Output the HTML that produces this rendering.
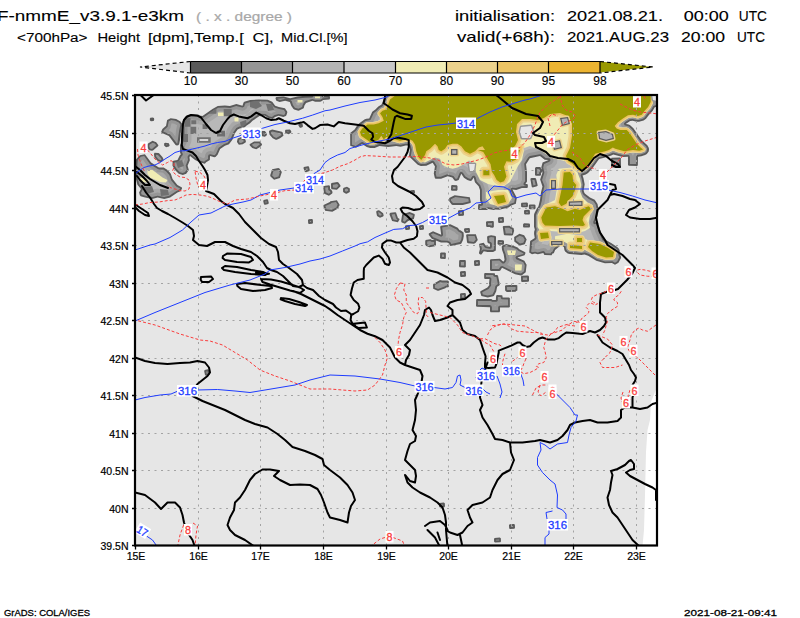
<!DOCTYPE html>
<html><head><meta charset="utf-8"><title>GrADS map</title>
<style>
html,body{margin:0;padding:0;background:#fff;}
body{width:800px;height:618px;overflow:hidden;}
svg{display:block;}
text{font-family:"Liberation Sans",sans-serif;}
svg{opacity:0.999;}
</style></head><body>
<svg width="800" height="618" viewBox="0 0 800 618">
<rect width="800" height="618" fill="#fff"/>
<g fill="#000" font-size="14.8" stroke="#000" stroke-width="0.12">
<text x="-3" y="21" textLength="187.00" lengthAdjust="spacingAndGlyphs">F-nmmE_v3.9.1-e3km</text>
<text font-size="12.5" x="17" y="42" textLength="70.50" lengthAdjust="spacingAndGlyphs">&lt;700hPa&gt;</text>
<text font-size="12.5" x="97.5" y="42" textLength="42.50" lengthAdjust="spacingAndGlyphs">Height</text>
<text font-size="12.5" x="148" y="42" textLength="95.75" lengthAdjust="spacingAndGlyphs">[dpm],Temp.[</text>
<text font-size="12.5" x="252.5" y="42" textLength="21.25" lengthAdjust="spacingAndGlyphs">C],</text>
<text font-size="12.5" x="281" y="42" textLength="66.60" lengthAdjust="spacingAndGlyphs">Mid.Cl.[%]</text>
<text x="455" y="21" textLength="100.00" lengthAdjust="spacingAndGlyphs">initialisation:</text>
<text x="567" y="21" textLength="96.00" lengthAdjust="spacingAndGlyphs">2021.08.21.</text>
<text x="683.75" y="21" textLength="45.00" lengthAdjust="spacingAndGlyphs">00:00</text>
<text x="738.75" y="21" textLength="28.25" lengthAdjust="spacingAndGlyphs">UTC</text>
<text x="457" y="42" textLength="98.00" lengthAdjust="spacingAndGlyphs">valid(+68h):</text>
<text x="567" y="42" textLength="102.00" lengthAdjust="spacingAndGlyphs">2021.AUG.23</text>
<text x="681" y="42" textLength="44.00" lengthAdjust="spacingAndGlyphs">20:00</text>
<text x="737" y="42" textLength="28.00" lengthAdjust="spacingAndGlyphs">UTC</text>
</g>
<text x="196" y="20.5" font-size="12" fill="#a8a8a8" stroke="#a8a8a8" stroke-width="0.2" textLength="96" lengthAdjust="spacingAndGlyphs">( . x . degree )</text>
<g id="cbar">
<polygon points="190.5,61.5 140,67 190.5,72.5" fill="#e6e6e6"/>
<rect x="190.5" y="61.5" width="51" height="11.5" fill="#5a5a5a"/>
<rect x="241.5" y="61.5" width="51" height="11.5" fill="#969696"/>
<rect x="292.5" y="61.5" width="51.5" height="11.5" fill="#b4b4b4"/>
<rect x="344" y="61.5" width="51.5" height="11.5" fill="#c8c8c8"/>
<rect x="395.5" y="61.5" width="51" height="11.5" fill="#f0ecb4"/>
<rect x="446.5" y="61.5" width="51" height="11.5" fill="#ecd28c"/>
<rect x="497.5" y="61.5" width="51" height="11.5" fill="#ecc464"/>
<rect x="548.5" y="61.5" width="51.5" height="11.5" fill="#ecb432"/>
<polygon points="600,61.5 653,67 600,72.5" fill="#999900"/>
<g stroke="#000" stroke-width="1.2" fill="none">
<path d="M190.5,61.5H600M190.5,73H600M190.5,61.5V73M241.5,61.5V73M292.5,61.5V73M344,61.5V73M395.5,61.5V73M446.5,61.5V73M497.5,61.5V73M548.5,61.5V73M600,61.5V73"/>
<path d="M190.5,61.5L140,67L190.5,73M600,61.5L653,67L600,73" stroke-dasharray="4,3"/>
</g>
<g font-size="12" text-anchor="middle" stroke="#000" stroke-width="0.15">
<text x="190.5" y="85">10</text><text x="241.5" y="85">30</text><text x="292.5" y="85">50</text><text x="344" y="85">60</text><text x="395.5" y="85">70</text><text x="446.5" y="85">80</text><text x="497.5" y="85">90</text><text x="548.5" y="85">95</text><text x="600" y="85">98</text>
</g>
</g>
<defs><clipPath id="mc"><rect x="135" y="95" width="522" height="450"/></clipPath></defs>
<g clip-path="url(#mc)">
<rect x="135" y="95" width="522" height="450" fill="#e6e6e6"/>
<path d="M658,385 L655,392 L651,402 L650,420 L647.5,430 L646,452 L645,495 L644,530 L642.5,546 L658,546Z" fill="#fff"/>
<path d="M362.18,143.98 L366.75,147.03 L370.09,148 L374.62,147.89 L379.51,145.94 L388.15,146.98 L396.3,146.01 L400.68,146.67 L405.67,145.52 L408.44,145.53 L408.99,146.35 L409.94,150.1 L408.9,156.2 L417.74,164.79 L420.8,165.9 L426.35,165.65 L432.66,162.74 L434.96,166.48 L433.79,173.5 L434.77,177.84 L435.42,178.63 L441.02,178.75 L447.68,176.3 L452.28,177.45 L454.49,180.49 L455.87,180.96 L458.67,179.91 L461.26,173.81 L463.95,177.63 L467.37,179.91 L470.38,180.96 L471.76,180.49 L473.74,177.58 L474.92,182.18 L478.65,186.15 L479.97,189.91 L480,200.25 L481.3,203.97 L479.2,204 L478.16,204.6 L478,208.8 L478.16,209.4 L479.2,210 L486.86,210 L488.17,209.03 L493.71,209.95 L495.43,209.52 L499.39,209.83 L508.45,207.48 L511.31,205.56 L515.85,203.87 L516.83,197.65 L512.43,189.58 L516.26,189.91 L521.91,188.03 L526.8,188 L527.84,187.4 L527.84,184.6 L526.8,184 L525.4,183.97 L527,181.57 L527,172.07 L526.03,164.21 L529.87,158.2 L539.99,156.03 L544.67,159.74 L548.62,160.03 L542.61,162.6 L541.32,167.21 L541.54,169.21 L541.03,168.97 L540.84,167.6 L539.8,167 L536.2,167 L535.6,167.16 L535,168.2 L535,174.8 L535.6,175.84 L540.4,175.84 L541,174.8 L541.03,173.03 L541.89,172.36 L542.04,170.64 L542.45,172.66 L540.14,179.58 L542.46,186.43 L540.99,192.56 L539.99,200.03 L538.47,206.13 L536.85,208.48 L534.43,213.31 L534.03,214.86 L534,226.83 L534.84,229.46 L534.13,231.65 L534.08,233.9 L534.74,237.96 L530.16,241.09 L529.21,252.4 L532.02,254.28 L534.98,253.53 L537.88,254.3 L543.35,252.95 L544.16,254.79 L544.83,255.05 L551.56,255.35 L552.54,253.61 L553.78,253.27 L555.14,249.89 L561.25,245.03 L563.97,247.21 L564.37,249.9 L565.15,251.43 L567.64,253.45 L569.58,253.99 L581.42,254.97 L584.49,254.41 L588.14,255.63 L596.25,260.74 L604.91,263.37 L611.92,263.09 L615,264.76 L618.48,262.68 L621.03,257.94 L621.09,257.03 L619.84,253.56 L619.72,250.54 L618.9,248.68 L617.25,246.96 L611.13,242.88 L603.88,239.07 L600.02,230.04 L598.01,222.06 L597.71,221.51 L596.54,221.19 L595.05,222.42 L597.46,216.35 L598.7,210.24 L597.55,203.98 L594.71,199.86 L589.96,197.47 L585.08,193.81 L584.46,192.94 L583.67,190.74 L584.66,184.2 L583.44,178.12 L582.52,175.52 L585.71,174.41 L588.04,172.94 L592.29,168.62 L599.12,159.02 L607.13,156.98 L611.31,155.52 L613.21,154.45 L622.78,157.12 L627.96,156.81 L628,164.8 L628.6,165.84 L636.8,166 L637.84,165.4 L638.04,156.63 L641.3,156.36 L645.11,155.04 L646.85,153.99 L648.68,151.41 L649.02,149.57 L648.84,147.94 L647.34,145.23 L641.42,139.82 L633.42,128.14 L629.91,124.96 L627.92,124.14 L625.78,123.88 L630.18,121.08 L632.7,120.82 L636.58,121.82 L639.03,121.85 L643.65,120.41 L646.05,118.83 L649.1,114.68 L652.75,110.86 L654.77,107.33 L658,106.5 L658,94 L387.33,94 L385.55,95.59 L384.47,97.2 L381.54,104.46 L378.31,106.46 L375.35,109.49 L372.27,111.8 L369.23,118.46 L366.49,118.66 L364.81,119.22 L358.94,123.42 L357.48,124.96 L354.6,129.4 L350.13,133.06 L350.23,145.84 L355.98,147.87Z M620.84,158.1 L619.8,157.5 L611.6,157.66 L611,158.7 L611.16,166.9 L612.2,167.5 L620.4,167.34 L621,166.3Z M535.99,178.44 L535.06,178 L531.46,178 L530.35,178.74 L531.73,186.67 L532.62,187.6 L536.95,186.35 L537.73,185.51Z M535.44,205 L534.4,204.4 L529.4,204.56 L528.8,205.6 L528.96,208.7 L530,209.3 L535,209.14 L535.6,208.1Z M529.84,210.4 L528.8,209.8 L524.6,209.96 L524,211 L524.16,214 L525.2,214.6 L529.4,214.44 L530,213.4Z M529.4,227.54 L530,226.5 L530,224.5 L529.4,223.46 L524.2,223.3 L523.16,223.9 L523,226.5 L523.6,227.54Z M527.62,275.53 L521.6,275.76 L521,276.8 L521.16,281.4 L522.2,282 L528.4,281.84 L529,280.8 L529,276.75 L528.56,275.82Z M527.84,203.1 L526.8,202.5 L521.6,202.66 L521,203.7 L521.16,206.7 L522.2,207.3 L527.4,207.14 L528,206.1Z M502.02,267.86 L515.05,274.32 L520.99,275.41 L521.91,275.19 L525.71,272.25 L526.63,264.67 L524.3,260.63 L517.36,257.6 L524.59,255.37 L525.45,253.31 L525.28,252.2 L519.37,249.18 L517.61,247.5 L514.02,245.96 L506.23,244.01 L502.35,245.62 L501.7,246.84 L502.08,250.05 L503.71,254.45 L504.57,259.89 L503.35,261.68 L499.96,258.69 L490.57,259.13 L490,260.15 L490,269.8 L490.16,270.4 L491.2,271 L499.31,271 L500.35,270.41Z M514.17,237.09 L514.31,241.44 L519.07,245.18 L520.02,245.4 L524.07,244.62 L524.95,243.91 L526.66,239.51 L524.11,235.35 L519.51,233.65Z M505.12,290.4 L506.36,291.79 L507.03,292 L515.64,291.79 L516.17,291.03 L517.34,290.4 L517.34,285.6 L516.3,285 L505.6,285.16 L505,286.2Z M514.84,524.6 L513.8,524 L509.6,524.16 L509,525.2 L509.16,528.4 L510.2,529 L514.4,528.84 L515,527.8Z M502.74,226.87 L503.85,234.47 L504.49,235.37 L512.05,235.5 L512.98,235.05 L514.14,230.66 L513.53,227.97 L511.48,227.16 L509.51,225.8 L503.37,225.94Z M490,307.16 L490,311.3 L490.6,312.34 L499.4,312.34 L500,311.3 L500.03,307.53 L508.8,307.5 L509.84,306.9 L509.84,298.1 L508.8,297.5 L502.66,297.5 L502.34,295.6 L501.9,295.16 L497.2,295 L496.16,295.6 L495.84,300 L492.66,300 L491.35,299 L477.2,299 L476.16,299.6 L476,305.8 L476.6,306.84Z M503.4,222.84 L504,221.8 L503.84,217.6 L502.8,217 L498.6,217.16 L498,218.2 L498.16,222.4 L499.2,223Z M503.4,244.84 L504,243.8 L504,241.2 L503.4,240.16 L498.7,240 L497.66,240.6 L497.5,243.8 L498.1,244.84Z M500.82,538.16 L499.71,537.59 L494.55,538.11 L494,539.12 L494.16,541.9 L495.2,542.5 L500.4,542.34 L501,541.3Z M489.4,284.9 L487.38,287.56 L480.45,291.16 L480.23,292.18 L481.4,296.09 L487.74,297.45 L493.17,296.37 L494.01,295.73 L496.18,291.39 L497.16,286.8 L499.3,285.44 L499.84,284.19 L497.97,275.47 L497.02,275 L495.03,274.97 L494.84,273.6 L494.4,273.16 L485.2,273 L484.16,273.6 L484.16,278.4 L485.2,279 L489.51,279.04 L489.04,283.65Z M486.26,246.23 L483.65,242.75 L479.37,243.76 L479.04,244.91 L479.96,248.89 L478.98,252.82 L479.2,253.84 L480.3,254.53 L481.42,254.51 L483.77,251.3 L487.6,251.9 L493.1,251.9 L495.84,250.4 L496,237.02 L495.51,236.05 L491.1,235.18 L487.57,236.08 L487.08,237.14 L487.44,242.16 L488.31,243.23 L489.95,243.75 L490,246.82Z M490.34,227.45 L492.8,227.7 L493.84,227.1 L493.84,221.6 L492.8,221 L486.6,221.16 L486,222.2 L486.16,226.4 L487.2,227 L489.84,227Z M479.84,260.6 L478.8,260 L474.6,260.16 L474,261.2 L474.16,265.4 L475.2,266 L479.4,265.84 L480,264.8Z M473.96,243.87 L475.45,243.07 L477.79,239.95 L475.84,234.23 L466.7,234.18 L466.15,235.33 L467.07,242.57 L467.92,243.13Z M469.79,197.21 L454.66,195.17 L449.18,198.11 L449.24,201.32 L451.64,204.52 L452.6,205 L462.85,205 L470.45,202.99 L470.82,201.91Z M464.25,231.58 L465.64,232.89 L469.4,232.84 L470,231.8 L469.84,228.6 L468.8,228 L464.6,228.16 L464,229.2Z M465.84,271.6 L464.8,271 L460.6,271.16 L460,272.2 L460.16,276.4 L461.2,277 L465.4,276.84 L466,275.8Z M465.84,260.6 L464.8,260 L460.2,260 L459.16,260.6 L459,266.3 L459.6,267.34 L464.8,267.5 L465.84,266.9Z M465.4,299.24 L466,298.2 L465.84,293.6 L464.8,293 L460.6,293.16 L460,294.2 L460.16,298.8 L461.2,299.4Z M463.84,210.6 L462.8,210 L458.6,210.16 L458,211.2 L458.16,215.4 L459.2,216 L463.4,215.84 L464,214.8Z M425.25,244.7 L426.23,245.99 L429.33,247.25 L435,246.17 L435.87,245.53 L436,244.98 L435.9,240.52 L440.97,242.5 L447.12,242.56 L449.08,243.57 L449.67,245.25 L450.47,246.02 L460.71,243.88 L461.5,243.25 L463.12,239.78 L463.79,236.02 L463.57,232.58 L460.5,230.34 L459.65,230.15 L457.75,227.87 L450.37,224.18 L441.11,225.78 L440.57,226.04 L440.16,227.12 L441.21,234.65 L433.01,231.15 L429.18,233.29 L428.72,233.79 L428.86,235.07 L431.79,238.74 L434.59,240 L431.76,240 L430.89,239.23 L430.19,239.13 L425.62,240.06 L425.2,241.18Z M456.9,190.84 L457.5,189.8 L457.5,186.2 L456.9,185.16 L452.2,185 L451.16,185.6 L451,189.8 L451.6,190.84Z M438.44,290.84 L445.41,288.22 L446.11,287.53 L448.4,287.34 L449,286.3 L448.84,281.2 L447.8,280.6 L442.18,280.6 L440.01,280.1 L433.6,283.65 L433,284.7 L433.21,288.86 L437.57,290.83Z M445.84,253.1 L444.8,252.5 L441.2,252.5 L440.16,253.1 L440,257.8 L440.6,258.84 L444.8,259 L445.84,258.4Z M444.82,503.18 L443.7,502.61 L439.54,503.1 L439,504.1 L439.16,506.9 L440.2,507.5 L444.4,507.34 L445,506.3Z M423.84,225.6 L422.8,225 L419.6,225.16 L419,226.2 L419.16,229.4 L420.2,230 L423.4,229.84 L424,228.8Z M414.84,190.6 L413.8,190 L410.6,190.16 L410,191.2 L410.16,193.4 L411.2,194 L414.4,193.84 L415,192.8Z M409.62,212.09 L402.19,214.17 L401.11,221.16 L401.76,222.38 L404.96,223.72 L408.13,220.96 L413.86,218.88 L414.8,214.98 L414.52,213.95Z M409.84,225.6 L408.8,225 L405.6,225.16 L405,226.2 L405.16,229.4 L406.2,230 L409.4,229.84 L410,228.8Z M396.03,212.48 L395.01,212.14 L390.48,212.79 L389.48,213.69 L389.52,214.4 L392.1,220.88 L397.88,222.22 L399.53,219.48 L399.34,218.86 L397.96,217.89Z M377.41,216.28 L380.01,217.81 L383.07,216.47 L383.72,215.58 L383.12,213.36 L379.5,210.38 L378.4,210.2 L377,210.67 L376.23,211.47 L376.21,212.04 L376.9,215.51Z M343.14,191.92 L345.42,193.61 L346.62,193.69 L349.82,191.89 L349.86,188.58 L346.98,186.65 L343.78,187.71 L343,188.83Z M336.95,189.86 L340.56,186.25 L340.38,185.17 L338.43,182.57 L337.3,182.1 L331.5,183.06 L331,184.04 L331.13,188.53 L332,189.17Z M330.4,201.13 L329.84,202.07 L323.55,204.92 L323.35,206.05 L325.13,210.84 L332.36,211.8 L338.51,208.13 L338.58,206.84 L339.74,204.98 L336.9,200.22Z M330,188.99 L330,186.38 L329.3,185.29 L323.6,186.07 L323.15,187.17 L324.21,193.79 L328.98,195.79 L332.2,193.6 L332.55,192.1 L331.4,189.79Z M311.54,95.75 L305.07,95.75 L297.66,96.5 L290.16,98.21 L283.53,96.41 L276.55,96.89 L275.88,97.16 L275.49,98.47 L276.35,100.65 L279.67,101.89 L285.14,100.79 L289.85,101.96 L291.34,105.88 L293.49,109.11 L294.2,109.61 L298.32,110.64 L299.15,110.55 L303.66,108.17 L304.45,105.45 L306.02,102.91 L312.58,100.74 L315.16,101.75 L320.15,101.71 L321.44,101.36 L323.22,99.98 L329.45,99.39 L330,98.38 L330,96.72 L329.39,95.67 L323.31,95.59 L322.38,94 L312.62,94Z M312.84,219.6 L311.8,219 L308.6,219.16 L308,220.2 L308.16,223.4 L309.2,224 L312.4,223.84 L313,222.8Z M308.96,166.59 L307.85,166.19 L303.8,167.07 L303.49,168.36 L304.95,171.93 L306.09,172.17 L309.46,171.01 L309.79,169.93Z M302.65,127.05 L302.95,126.06 L302.69,124.42 L301.94,123.49 L299.26,123.74 L298.35,124.41 L298.4,125.53 L299.87,127.76 L300.96,127.86Z M288.72,134.34 L290.98,132.73 L291.35,132.24 L291.19,131.06 L289.94,129.62 L285.6,129.66 L285,130.7 L285.23,133.09Z M180.83,154.48 L179.85,155.3 L177.48,159.97 L173.46,160.81 L172.62,161.45 L172.5,165.66 L174.93,169.88 L178.78,173.78 L182.83,174.91 L186.24,173.68 L188.83,169.98 L187.59,165.79 L189.86,160.34 L189.44,157.19 L190.01,156.05 L195.11,160.06 L200.1,162.53 L204.89,163.71 L206.12,162.33 L209.84,159.91 L210.03,156.03 L214.31,157.29 L215.51,156.99 L217.59,154.78 L220.15,148.9 L224.94,145.79 L228.97,144.2 L232.4,139.63 L234.98,133.31 L237.64,129.43 L240.14,128.25 L243.71,128.16 L246.3,125.72 L250.08,123.17 L252.55,120.72 L259.85,115.85 L264.82,115.75 L268.98,118.3 L272.47,118.88 L275.1,116.97 L278.59,115.8 L283.32,116.89 L285.81,115.97 L286.41,115.28 L287.31,112.56 L287.17,111.51 L284.94,108.33 L278.79,107.01 L275.19,105.81 L272.21,101.86 L267.75,99.63 L258.78,99.5 L250.15,99.99 L244.33,101.81 L243.56,102.58 L242.48,105.71 L236.35,104.09 L229.88,105.99 L224.92,105.6 L217.8,105.98 L212.47,109.02 L202.49,115.98 L190.66,114.17 L185.3,116.85 L182.5,121.34 L182.5,139.86 L180,145.28 L180,152.22Z M272.17,129.61 L269.25,130.72 L268.93,131.77 L269.6,134.75 L272.73,138.36 L275.72,139.84 L276.78,139.84 L280.06,138.21 L283.46,135.65 L282.71,132.62 L281.86,131.84Z M272.15,169.17 L270.19,175.32 L270.5,176.5 L274.05,179.79 L279.9,177.9 L281.85,172.02 L279.43,168.57 L278.3,168.1Z M267.96,199.62 L266.82,199.24 L263.62,200.04 L263.24,201.18 L264.04,204.38 L265.18,204.76 L268.38,203.96 L268.76,202.82Z M264.95,136.85 L266.8,135.2 L266.95,133.68 L264.92,130.89 L261.96,130.93 L261.4,132.09 L262.11,136.2Z M249.57,144.24 L249.82,145.57 L252.3,148.05 L256.23,149.37 L260.08,146.92 L261.74,145.26 L262.07,144.19 L259.94,141.52 L254.09,141.4Z M237.66,138.38 L236.97,141.57 L237.12,142.37 L238.86,144.87 L242.72,144.35 L245.81,142.15 L245.88,141.09 L245.17,139.32 L241.7,137.23 L240.77,137.16Z M209.41,374.96 L209.81,373.85 L208.94,369.65 L207.78,369.24 L204.59,370.04 L204.19,371.15 L205.06,375.35 L206.22,375.76Z M161.1,131.93 L161.91,132.95 L168.86,135.93 L175.56,144.91 L176.8,145.44 L178.22,145.16 L179.16,144.22 L179.99,140.05 L181,131.03 L182.37,124.03 L180.16,121.19 L176.14,119.07 L170.63,118.18 L167.12,120.09 L166.04,125.78 L162.38,128.99Z M135.57,177.45 L137.43,184.75 L140.94,189.01 L139.1,192.51 L139.82,195.37 L140.63,196.19 L145.06,197.51 L152.21,198.94 L157.65,197.54 L164.28,198.93 L170.16,197.4 L177.45,192.54 L180.56,191.19 L182.05,188.54 L181.94,187.39 L177.42,184.9 L172.58,179.09 L170.83,173.8 L167.59,170.11 L163.62,167.5 L158.86,167.41 L151.1,162.56 L144.92,154.21 L139.74,155.26 L135.96,159.43 L135.01,169.89Z M164.1,145.56 L166.04,147.29 L168.92,146.41 L169.67,145.51 L168.86,143.18 L165.32,142.63 L164.18,143.19Z M154.56,152.79 L153.94,154 L154.35,157.13 L157.32,160.8 L160.97,162.29 L163.27,160.61 L163.7,159.67 L162.58,157.16 L159.06,153.33 L158.3,152.96Z M152.51,140.75 L148.06,143.4 L147.5,144.41 L147.59,147.22 L148.52,149.45 L149.32,150.15 L151.87,150.83 L152.98,150.56 L158.03,146.36 L158.47,145.23 L156.19,142.23Z M154.04,118.2 L153,117.6 L150.4,117.76 L149.8,118.8 L149.96,120.6 L151,121.2 L153.6,121.04 L154.2,120Z" fill="#5a5a5a" fill-rule="evenodd"/>
<path d="M351.9,133.95 L351.9,144.63 L355.72,145.9 L360.86,142.48 L362.03,142.09 L363.07,142.3 L367.63,145.34 L370.16,146.1 L374.24,146.03 L379.19,144.07 L388.03,145.08 L395.58,144.14 L400.5,144.77 L405.44,143.63 L408.9,143.69 L409.81,144.22 L410.63,145.39 L411.8,149.76 L410.81,155.63 L418.82,163.23 L421.07,164.01 L424.33,163.96 L426.06,163.76 L432.03,160.83 L433.06,160.82 L434.24,161.69 L436.82,166.08 L435.7,173.62 L436.48,176.85 L440.93,176.83 L446.62,174.56 L448.14,174.45 L453.38,175.89 L455.78,178.99 L457.31,178.48 L459.75,172.66 L460.56,172.05 L461.57,171.94 L462.92,172.83 L465.16,176.16 L468.31,178.26 L470.47,178.99 L472.52,176.12 L473.52,175.69 L474.58,175.87 L475.64,177.21 L476.7,181.47 L480.27,185.15 L481.84,189.6 L481.9,199.95 L483.19,203.81 L482.54,205.42 L481.64,205.85 L479.9,205.9 L479.9,208.1 L486.42,208.1 L487.94,207.14 L493.79,208.04 L495.53,207.63 L499.08,207.95 L507.9,205.65 L510.71,203.76 L514.31,202.56 L514.99,198.23 L510.88,190.74 L510.59,189.08 L511.16,188.17 L512.12,187.71 L515.86,188.04 L521.6,186.16 L526.1,186.1 L523.97,185.22 L523.52,184.26 L523.7,183.11 L525.1,181.23 L525.1,172.13 L524.18,163.78 L528.29,157.14 L529.86,156.09 L540.03,154.13 L541.29,154.6 L545.61,158.05 L549.17,158.21 L550.04,158.77 L550.49,159.69 L550.39,160.72 L549.27,161.84 L544.11,163.9 L543.22,167.44 L544.34,172.74 L542.05,180.02 L544.19,185.37 L544.3,186.87 L542.87,192.86 L541.86,200.39 L540.31,206.59 L538.53,209.37 L535.91,215.19 L535.9,226.7 L536.69,229 L535.98,233.79 L536.61,238.37 L535.6,239.86 L531.9,242.08 L531.89,246.19 L531.07,251.56 L532.29,252.34 L535.08,251.63 L537.7,252.39 L543.36,251.05 L544.98,251.96 L545.44,253.19 L550.57,253.51 L551.49,252.02 L552.43,251.71 L553.95,248.41 L559.96,243.6 L561.25,243.13 L562.54,243.6 L565.38,245.93 L566.21,249.38 L567.27,250.98 L568.36,251.69 L569.79,252.1 L581.51,253.07 L585.09,252.61 L589.06,253.97 L596.85,258.94 L605.17,261.49 L612.4,261.26 L615,262.72 L617.3,261.14 L619.2,257.35 L617.95,253.67 L617.92,251.13 L617.34,249.78 L616.14,248.5 L610.16,244.52 L602.48,240.35 L598.22,230.65 L596.47,223.72 L594.99,224.32 L594.01,224 L593.34,223.23 L593.3,221.64 L595.66,215.73 L596.8,210.05 L595.72,204.54 L593.64,201.45 L588.82,198.99 L583.94,195.33 L582.72,193.71 L581.78,190.92 L582.78,184.48 L581.59,178.53 L580.64,175.86 L580.79,174.72 L581.56,173.87 L586.28,171.93 L590.37,167.93 L598.01,157.47 L606.54,155.17 L610.56,153.78 L612.56,152.66 L613.99,152.68 L623.11,155.25 L628.07,154.91 L629.19,155.36 L629.9,156.94 L629.9,164.1 L636.1,164.1 L636.1,156.76 L636.77,155.22 L637.85,154.74 L640.71,154.55 L644.93,153 L646.59,151.41 L647.03,148.52 L645.95,146.53 L639.95,141.03 L632.07,129.47 L628.93,126.6 L624.48,125.27 L623.9,123.55 L625.15,121.94 L629.55,119.29 L632.83,118.93 L636.85,119.94 L638.75,119.97 L642.96,118.64 L644.69,117.49 L647.63,113.47 L651.23,109.72 L653.31,106.12 L656.1,105.02 L656.1,95.9 L387.97,95.9 L386.15,98.08 L383.16,105.46 L382.21,106.41 L379.53,107.92 L376.68,110.85 L373.62,113.16 L370.63,119.74 L369.6,120.33 L365.62,120.94 L360.11,124.92 L355.95,130.74Z M540.11,170.55 L539.11,168.9 L536.9,168.9 L536.9,174.1 L539.1,174.1 L539.2,172.54 L540.1,171.45Z M612.9,159.4 L612.9,165.6 L619.1,165.6 L619.1,159.4Z M532.32,179.9 L533.44,185.52 L535.73,184.75 L534.52,179.9Z M530.7,206.3 L530.7,207.4 L533.7,207.4 L533.7,206.3Z M525.9,211.7 L525.9,212.7 L528.1,212.7 L528.1,211.7Z M524.9,225.2 L524.9,225.8 L528.1,225.8 L528.1,225.2Z M522.9,277.5 L522.9,280.1 L527.1,280.1 L527.1,277.47Z M522.9,204.4 L522.9,205.4 L526.1,205.4 L526.1,204.4Z M491.9,260.83 L491.9,269.1 L498.91,269.1 L500.55,266.49 L502.3,265.98 L515.83,272.58 L521.02,273.49 L524.03,271.25 L524.83,265.39 L523.35,262.34 L516.29,259.17 L515.46,257.53 L516.41,255.95 L523.24,253.89 L523.46,253.28 L518.38,250.8 L516.78,249.23 L513.42,247.76 L506.1,245.93 L503.64,247.1 L503.96,249.71 L505.54,253.94 L506.52,259.12 L506.16,260.94 L504.57,263.14 L503.58,263.57 L502.5,263.39 L499.28,260.53Z M515.95,238.01 L516.06,240.52 L519.97,243.47 L523.34,242.83 L524.68,239.63 L523.11,236.99 L519.7,235.63Z M506.9,289.46 L507.44,290.1 L514.56,290.1 L515.6,289.24 L515.6,286.9 L506.9,286.9Z M510.9,525.9 L510.9,527.1 L513.1,527.1 L513.1,525.9Z M504.79,227.7 L505.65,233.6 L511.5,233.6 L512.23,230.52 L511.93,229.31 L510.49,228.78 L509.14,227.7Z M477.9,300.9 L477.9,305.1 L489.84,305.1 L491.31,305.69 L491.9,307.16 L491.9,310.6 L498.1,310.6 L498.2,307.04 L498.69,306.19 L499.54,305.7 L508.1,305.6 L508.1,299.4 L502.04,299.3 L501.19,298.81 L500.6,296.9 L497.9,296.9 L497.8,300.46 L497.31,301.31 L496.33,301.84 L492.17,301.84 L490.95,300.9Z M499.9,218.9 L499.9,221.1 L502.1,221.1 L502.1,218.9Z M499.4,241.9 L499.4,243.1 L502.1,243.1 L502.1,241.9Z M495.9,539.77 L495.9,540.6 L499.1,540.6 L499.1,539.54Z M482.21,292.27 L482.8,294.62 L487.55,295.55 L492.47,294.57 L494.42,290.66 L495.41,286.06 L497.88,284.08 L496.44,276.9 L494.67,276.84 L493.69,276.31 L493.11,274.9 L485.9,274.9 L485.9,277.1 L489.39,277.1 L490.93,277.77 L491.41,278.85 L490.96,283.58 L491.18,285.58 L488.59,289.02Z M481.25,251.57 L482.44,249.93 L483.55,249.41 L487.68,250 L492.74,250 L494.1,249.15 L494.1,237.61 L491.04,237.11 L489.02,237.66 L489.3,241.54 L491.02,242.19 L491.8,243.31 L491.9,246.82 L491.17,248.42 L489.45,248.83 L485.64,248.03 L484.6,247.21 L482.91,244.67 L481.05,245.13 L481.86,248.61Z M487.9,222.9 L487.9,225.1 L490.33,225.16 L492.1,225.8 L492.1,222.9Z M475.9,261.9 L475.9,264.1 L478.1,264.1 L478.1,261.9Z M468.12,235.9 L468.73,241.33 L473.43,242 L474.06,241.74 L475.83,239.49 L474.63,235.9Z M450.9,199.17 L450.94,200.43 L452.95,203.1 L462.74,203.1 L468.84,201.58 L468.36,198.71 L455.39,196.97Z M465.9,229.9 L466.55,231.1 L468.1,231.1 L468.1,229.9Z M461.9,294.9 L461.9,297.5 L464.1,297.5 L464.1,294.9Z M461.9,272.9 L461.9,275.1 L464.1,275.1 L464.1,272.9Z M460.9,261.9 L460.9,265.6 L464.1,265.6 L464.1,261.9Z M427.13,244.03 L427.55,244.55 L429.66,245.34 L434.1,244.39 L434.1,241.9 L431.27,241.84 L430.08,241.08 L427.19,241.56Z M433.12,237.35 L441.28,240.6 L447.56,240.71 L450.25,242.06 L451.27,244.06 L459.94,242.12 L461.24,239.43 L461.82,236.12 L461.76,233.46 L458.43,231.61 L456.7,229.47 L449.66,226.01 L442.14,227.51 L443.1,234.8 L442.66,235.87 L441.8,236.46 L440.65,236.47 L433.14,233.13 L430.84,234.51Z M459.9,211.9 L459.9,214.1 L462.1,214.1 L462.1,211.9Z M452.9,186.9 L452.9,189.1 L455.6,189.1 L455.6,186.9Z M434.9,285.1 L434.9,287.71 L438.1,288.93 L444.56,286.51 L445.67,285.68 L447.1,285.6 L447.1,282.5 L442.18,282.5 L440.25,282.05Z M441.9,254.4 L441.9,257.1 L444.1,257.1 L444.1,254.4Z M440.9,504.75 L440.9,505.6 L443.1,505.6 L443.1,504.56Z M420.9,226.9 L420.9,228.1 L422.1,228.1 L422.1,226.9Z M413.1,191.9 L411.9,192.1 L413.1,192.1Z M403.05,220.9 L404.62,221.69 L407.13,219.34 L412.35,217.55 L412.83,215.18 L409.79,214.01 L403.72,215.53Z M406.9,226.9 L406.9,228.1 L408.1,228.1 L408.1,226.9Z M391.61,214.55 L393.43,219.4 L397.06,220.31 L397.35,219.8 L396.31,218.83 L394.7,214.11Z M378.19,212.27 L378.78,214.9 L380.14,215.81 L381.68,215.04 L381.33,214.12 L378.66,212.12Z M344.9,190.98 L346.14,191.81 L348.1,190.83 L348.1,189.52 L346.76,188.62 L344.9,189.32Z M332.9,184.65 L332.9,187.39 L336.35,187.97 L338.49,185.82 L337.16,184.04Z M325.36,206.06 L326.43,209.29 L331.55,210.02 L336.7,207.13 L336.83,206.08 L337.69,204.84 L336.02,202.06 L331.67,202.68 L330.59,203.82Z M325.12,187.62 L325.71,192.36 L328.8,193.78 L330.59,192.43 L329.88,191.02 L328.81,190.57 L328.22,189.66 L328.1,187.19Z M277.58,98.73 L277.75,99.25 L280.14,100.01 L284.4,98.94 L285.87,99.01 L283.5,98.32Z M290.23,100.1 L291.64,101.11 L292.96,104.88 L294.88,107.77 L298.45,108.72 L302.12,106.94 L302.8,104.51 L304.25,102.06 L305.42,101.11 L312.2,98.88 L315.28,99.85 L319.72,99.85 L320.81,99.53 L322.51,98.22 L328.1,97.73 L328.1,97.43 L322.92,97.45 L322.16,97.1 L321.4,95.9 L313.6,95.9 L312.81,97.23 L311.95,97.6 L305.13,97.65 L297.78,98.4Z M309.9,220.9 L309.9,222.1 L311.1,222.1 L311.1,220.9Z M305.57,168.5 L306.17,170.16 L307.8,169.68 L307.5,168.18Z M300.56,125.46 L300.81,125.88 L300.98,125.8 L300.92,125.41Z M286.9,131.4 L286.9,131.88 L288.37,132.37 L289.26,131.67Z M174.4,162.56 L174.44,165.51 L176.52,168.83 L179.95,172.27 L182.44,173.01 L184.79,172.37 L186.86,169.69 L185.69,165.75 L188,159.87 L187.57,156.85 L188.74,154.64 L189.69,154.18 L190.86,154.35 L196.05,158.4 L200.68,160.72 L204.16,161.76 L205.14,160.7 L208.1,158.92 L208.1,156.14 L208.57,154.81 L210.25,154.14 L214.46,155.35 L215.91,153.88 L218.69,147.69 L224.11,144.08 L227.63,142.83 L230.81,138.59 L233.35,132.31 L236.38,128.01 L239.44,126.46 L242.96,126.35 L245.09,124.25 L248.81,121.76 L251.34,119.25 L258.8,114.27 L260.18,113.85 L265.37,113.93 L269.45,116.43 L272,116.96 L274.19,115.3 L278.51,113.91 L283.6,114.95 L284.7,114.4 L285.4,112.28 L283.86,109.96 L278.23,108.82 L274.04,107.32 L271.14,103.45 L267.1,101.43 L258.8,101.4 L250.38,101.88 L245.25,103.52 L244.08,106.74 L242.46,107.61 L236.12,106 L230.11,107.88 L224.96,107.5 L218.13,107.87 L213.53,110.6 L203.25,117.72 L202.01,117.84 L191.24,116 L186.39,118.43 L184.4,121.61 L184.4,139.86 L181.9,145.5 L181.9,152 L182.74,153.86 L182.74,154.91 L181.43,156.39 L178.94,161.19 L177.74,161.89Z M270.9,132.04 L271.23,133.73 L273.67,136.69 L276.25,137.98 L281.49,134.97 L281.03,133.59 L272.64,131.49Z M272.13,175.45 L274.51,177.83 L278.5,176.5 L279.88,172.34 L278.16,170.04 L273.49,170.71Z M265.24,201.49 L265.49,202.76 L266.76,202.51 L266.51,201.24Z M263.38,132.65 L263.63,134.8 L264.37,134.94 L265.06,134.26 L263.98,132.65Z M251.79,144.85 L253.58,146.61 L255.97,147.4 L259.95,144.36 L259.09,143.3 L254.36,143.3Z M239.19,139.69 L238.9,141.54 L239.72,143.02 L241.83,142.66 L243.91,141.28 L243.43,140.24 L241.1,139.05Z M206.18,371.5 L206.55,373.75 L207.82,373.5 L207.45,371.25Z M163.28,131.41 L170.12,134.51 L176.9,143.48 L177.39,143.39 L179.12,130.73 L180.45,124.51 L178.83,122.56 L175.35,120.81 L171.34,120.01 L168.72,121.27 L167.67,126.75 L164.05,129.95Z M137.48,177.4 L139.19,184.01 L142.68,188.25 L142.77,189.56 L141.05,192.75 L141.54,194.48 L145.45,195.65 L152.35,197.03 L157.59,195.64 L164.04,197.03 L169.28,195.71 L176.52,190.88 L179.47,189.59 L180.05,188.4 L176.24,186.39 L171.12,180.31 L169.31,174.99 L166.19,171.4 L163.32,169.4 L159.17,169.4 L157.85,169.02 L150.1,164.18 L144.17,156.1 L140.89,156.8 L137.82,159.94 L136.91,169.97Z M165.9,144.6 L166.45,145.3 L167.62,144.86Z M155.94,154.63 L156.26,156.73 L158.6,159.38 L160.68,160.29 L161.63,159.5 L160.9,158.07 L157.91,154.88Z M149.4,144.8 L149.42,146.66 L150.14,148.41 L151.99,148.9 L156.29,145.32 L154.79,143.56 L152.69,142.72Z" fill="#969696" fill-rule="evenodd"/>
<path d="M355,142.4 L359.89,139.48 L361.96,138.99 L364.34,139.47 L369.14,142.63 L370.37,143 L374.24,142.84 L378.67,141.01 L388,141.96 L395.19,141.06 L400.3,141.68 L405.2,140.54 L409.65,140.68 L411.9,141.92 L413.8,145.01 L414.94,150.14 L414.18,154.61 L420.51,160.62 L425.13,160.76 L431.47,157.78 L433.85,157.83 L436.04,159.06 L439.03,163.29 L439.85,165.43 L439.89,167.3 L438.9,173.75 L440.29,173.75 L445.47,171.68 L447.34,171.31 L453.5,172.59 L455.8,173.91 L457.28,170.78 L459.42,169.16 L462.09,168.88 L464.6,170.1 L467.36,173.89 L469.29,175.18 L470.54,173.73 L473.15,172.61 L475.96,173.1 L478.1,175.13 L479.51,179.94 L482.9,183.52 L484.71,188.33 L485,199.33 L486.03,202.28 L486.11,204.66 L487.55,204.07 L493.6,204.86 L495.7,204.53 L498.52,204.9 L505.92,203.05 L509.73,200.82 L511.56,200.21 L511.8,198.78 L507.69,191.18 L507.61,188.26 L509.09,185.86 L511.62,184.65 L515.49,184.9 L520.66,183.21 L520.86,181.87 L522,180.19 L522,172.31 L521.07,164.83 L521.25,162.67 L521.96,161.05 L525.71,155.43 L527.45,153.8 L529.25,153.05 L538.89,151.12 L542.2,151.54 L546.75,155 L550.07,155.25 L552.35,156.71 L553.54,159.14 L553.28,161.84 L551.65,164.01 L546.73,166.19 L546.4,167.5 L547.44,172.85 L545.32,179.84 L547.07,184.22 L547.32,187.6 L545.92,193.42 L544.9,200.97 L543.32,207.35 L539,215.58 L539,226.3 L539.69,228.25 L539.74,230.41 L539.07,233.51 L539.68,238.78 L538.34,241.57 L535,243.83 L534.66,248.6 L537.85,249.15 L543.38,247.95 L545.82,248.6 L547.47,250.21 L548.98,250.3 L549.94,249.38 L550.84,247.3 L552.01,245.99 L558.02,241.18 L559.08,240.53 L561.25,240.03 L563.53,240.58 L567.81,244 L568.85,246.1 L569.1,248.22 L569.71,248.88 L581.57,249.97 L585.11,249.45 L590.56,251.25 L597.87,256.01 L605.66,258.42 L611.56,258.11 L613.2,258.26 L614.93,258.97 L615.85,257.12 L614.85,253.85 L614.68,251.42 L608.57,247.18 L601.92,243.84 L600.2,242.45 L595.42,232.01 L594.14,227.18 L592.3,226.59 L590.53,224.55 L590.09,221.81 L592.69,214.82 L593.65,210 L592.79,205.7 L591.58,203.88 L587.33,201.72 L582.08,197.81 L579.76,194.69 L578.69,191.2 L579.68,184.81 L577.56,176.2 L577.98,173.42 L579.83,171.3 L584.66,169.25 L588.34,165.54 L594.52,156.64 L596.2,154.96 L597.98,154.15 L605.56,152.23 L609.29,150.95 L611.5,149.75 L613.79,149.48 L623.7,152.21 L628.6,151.85 L631.2,153 L632.75,155.38 L633,156.94 L633.23,155.25 L634.7,152.91 L637.19,151.71 L639.88,151.56 L643.6,150.16 L644,149.3 L643.82,148.84 L637.56,143 L629.82,131.6 L627.44,129.33 L624.54,128.72 L622.38,127.55 L621.04,125.47 L620.85,123.02 L621.86,120.77 L622.8,119.83 L628.51,116.37 L632.81,115.82 L638.39,116.88 L642.02,115.63 L645.23,111.51 L648.78,107.82 L650.92,104.15 L653,102.67 L653,99 L389.24,99 L385.79,107.09 L384.75,108.32 L381.59,110.25 L378.84,113.07 L376.12,115.16 L374.46,119.26 L372.92,121.83 L370.59,123.27 L366.86,123.8 L362.07,127.32 L358.14,132.93 L355,135.5Z M495,266 L497.14,266 L498.61,264.15 L498.11,263.68 L495,263.8Z M507.18,264.85 L516.77,269.6 L520.24,270.2 L521.13,269.54 L521.64,265.85 L521.04,264.67 L514.41,261.64 L512.84,259.74 L512.36,257.41 L513.02,255.12 L514.66,253.4 L515.86,252.81 L515.03,251.93 L512.24,250.66 L507.14,249.39 L508.52,253.09 L509.57,258.54 L509.48,260.87 L508.75,262.64Z M520.02,239.09 L519.64,239.34 L521.13,240.1 L521.03,239.5Z M494.37,305 L494.83,305.86 L495.02,307.5 L495.2,306.24 L495.93,304.99Z M500.46,301.85 L500.16,302.5 L502.66,302.5Z M489.73,291.95 L490.37,291.83 L490.59,291.39 L490.58,291.4Z M494.16,282.82 L494.42,282.62 L494.27,281.85Z M445.2,237.5 L448.01,237.63 L449.36,238.09 L452.06,239.55 L452.97,240.56 L457.79,239.46 L458.2,238.63 L458.57,235.06 L456.45,233.99 L454.71,231.94 L449.3,229.24 L445.62,229.98 L446.17,235.23Z M295.3,102.08 L296.84,105.12 L298.17,105.45 L299.46,104.81 L301.23,101.26Z M177.8,165.04 L178.94,166.87 L181.62,169.55 L183.01,169.65 L183.36,169.19 L182.59,165.7 L182.97,163.87 L184.8,159.48 L184.53,157.83 L183.9,158.38 L181.33,163.16 L179.54,164.53Z M185.79,153.35 L186.67,152.33 L189.17,151.13 L191.93,151.44 L197.71,155.76 L203.27,158.26 L205,157.17 L205.16,154.88 L206.2,152.82 L208.05,151.44 L210.32,151.04 L213.41,151.8 L216.31,145.7 L222.21,141.6 L225.69,140.25 L228.1,137.03 L230.87,130.42 L233.25,126.86 L235.4,124.96 L238.73,123.45 L241.68,123.25 L246.81,119.36 L249.78,116.56 L258.4,111.06 L260.18,110.75 L266.27,110.96 L271.2,113.64 L272.71,112.57 L276.06,111.38 L272.15,109.79 L269.08,105.88 L266.32,104.5 L250.92,104.96 L247.69,105.99 L246.68,108.43 L244.85,110.12 L242.42,110.71 L236.15,109.22 L230.48,110.95 L224.93,110.61 L219.01,110.93 L204.48,120.56 L201.4,120.88 L191.81,119.18 L188.49,120.84 L187.5,122.43 L187.5,139.86 L186.91,142.36 L185,146.18 L185,151.32Z M275.92,173.49 L275.73,174.15 L276.25,173.44Z M140.02,169.98 L140.61,177.31 L141.98,182.52 L145.53,187.02 L145.83,190.05 L144.9,192.25 L152.26,193.85 L157.49,192.54 L163.95,193.86 L168.02,192.84 L174.2,188.71 L168.17,181.46 L166.52,176.48 L164.12,173.73 L162.4,172.5 L157.48,172.22 L148.45,166.8 L146.83,165.27 L142.81,159.54 L140.82,161.26Z M168.68,130.25 L172.4,132.38 L175.37,136.41 L176.06,130.23 L177.1,125.33 L174.36,123.77 L171.51,123.33 L170.34,128.33Z" fill="#a8a8a8" fill-rule="evenodd"/>
<path d="M361.57,135.05 L365.86,135.77 L370.91,139 L373.04,139 L377.99,137.07 L380.63,137.01 L388,137.93 L394.7,137.09 L400,137.66 L405.81,136.5 L410.63,136.8 L414.49,138.87 L416.4,141.19 L417.66,143.94 L418.79,148.47 L418.54,153.17 L422.2,156.71 L424.1,156.8 L430.58,153.88 L434.88,153.96 L438.74,156.11 L442.36,161.07 L443.76,164.59 L443.83,168.03 L447.07,167.32 L449.87,167.56 L453.95,168.59 L457.96,165.44 L462.76,164.94 L467.13,167 L469.55,169.98 L472.69,168.64 L477.73,169.51 L481.49,173 L483.13,177.9 L486.31,181.42 L487.33,183.54 L488.88,188.66 L489,198.54 L489.54,200.15 L493.73,200.83 L495.92,200.54 L498.14,200.87 L504.69,199.24 L506.87,197.87 L503.84,192.27 L503.75,187.2 L506.41,182.89 L510.98,180.7 L515.09,180.82 L517.31,180.08 L518,178.96 L518,172.56 L517.1,165.33 L517.36,161.75 L518.63,158.83 L522.38,153.21 L524.86,150.72 L528.47,149.13 L540.18,147.03 L544.07,148 L548.16,151 L551.23,151.42 L555.34,154.04 L557.47,158.43 L557.01,163.28 L554.08,167.18 L550.86,168.85 L551.44,173.01 L549.58,179.72 L551.41,185.43 L551.21,188.53 L549.86,194.15 L548.83,201.72 L547.2,208.32 L546.49,210.21 L543,216.3 L543,225.73 L543.58,227.28 L543.69,231.06 L543.1,233.36 L543.66,239.16 L541.37,244.18 L543.41,243.95 L547.54,245.05 L549.51,242.86 L555.52,238.06 L557.34,236.93 L561.25,236.03 L565.16,236.93 L566.98,238.06 L570.94,241.51 L572.75,245.22 L581.39,245.94 L585.49,245.47 L587.33,245.87 L592.49,247.75 L599.3,252.26 L606.35,254.47 L610.88,254.14 L610.88,253.53 L606.5,250.6 L600.13,247.42 L597.25,245.16 L595.52,242.41 L591.75,233.59 L590.76,230.14 L590.1,229.93 L586.91,226.26 L586.11,221.39 L588.84,213.67 L589.57,210 L589.02,207.26 L585.23,205.12 L579.68,201.01 L577.45,198.66 L576.04,196.17 L574.71,191.57 L575.64,185 L573.57,176.5 L574.35,171.74 L577.48,168.06 L582.13,166.13 L585.22,163.03 L591.12,154.53 L593.51,151.97 L597.06,150.26 L604.33,148.43 L610.13,145.99 L614.26,145.51 L624.34,148.24 L629.11,147.88 L632.85,149.53 L636.61,147.75 L633.96,144.86 L626.87,134.31 L625.4,132.84 L623.56,132.6 L619.66,130.48 L617.25,126.75 L616.91,122.33 L618.73,118.28 L620.38,116.64 L626.94,112.68 L631.4,111.87 L633.3,111.84 L637.88,112.87 L639.89,112.18 L642.13,108.98 L645.64,105.33 L646.89,103 L391.83,103 L389.2,109.19 L387.57,111.15 L384.17,113.33 L379.42,117.69 L377.37,122.38 L375.87,124.53 L371.68,127.12 L368.5,127.5 L364.71,130.34Z M450.13,234.13 L450.13,234.14 L450.24,234.18Z M189,147.24 L193.58,147.79 L199.88,152.38 L201.62,153.25 L203.13,150.25 L206.46,147.77 L211.03,147.12 L213.02,143.41 L215.25,141.36 L220.03,138.25 L223.24,136.85 L224.59,135.05 L227.55,128.21 L231.68,122.68 L235.85,120.26 L240.03,119.26 L244.27,116.26 L247.56,113.23 L254.24,108.77 L250.72,109.22 L250.04,110.6 L246.74,113.64 L242.38,114.71 L236.28,113.39 L230.97,114.92 L224.88,114.62 L220.21,114.87 L206.07,124.23 L202.42,124.98 L192.46,123.33 L191.5,123.81 L191.5,139.86 L191.2,142.19Z M144.04,169.96 L144.84,178.15 L145.56,180.54 L149.2,185.42 L149.58,189.24 L152.06,189.73 L157.36,188.54 L163.92,189.74 L166.44,189.11 L168.26,187.97 L164.65,183.35 L162.94,178.46 L161.42,176.71 L156.69,176.15 L154.09,175.04 L146.33,170.2 L144.19,168.3Z" fill="#b8b8b8" fill-rule="evenodd"/>
<path d="M191.3,124.3 L196.2,124.3 L196.2,120.2 L191.3,120.2Z M185,126.7 L190.5,126.7 L190.5,118 L185.98,118.26 L185,119.83Z M190.5,134 L196.2,134 L196.2,126.7 L190.5,126.7Z M183.2,142 L188,142 L188,134 L184,134 L184,139.86Z M149,163 L149.84,163.42 L149.12,162.42Z M178,168 L184,166 L182,160 L176,162Z M146,194 L154,192 L152,186 L144,187Z M161,196 L169,195 L168,190 L160,189Z M250,102 L250,107 L256,109 L262,106 L258.03,101.04Z M268,111 L274,110 L272,104 L266,104Z M209,113.7 L216.4,113.7 L216.4,108.41 L209,113.28Z M223.7,116.2 L231.7,116.2 L231.7,108.9 L223.7,108.9Z M240.95,126.75 L243.25,126.62 L246.62,123.7 L246,120 L240,122Z M202.6,129.1 L207.5,129.1 L207.5,124.3 L202.6,124.3Z M217,136.4 L225,136.4 L225,130.7 L217,130.7Z M197,142.8 L210.7,142.8 L210.7,137.2 L197,137.2Z" fill="#707070" fill-rule="evenodd"/>
<path d="M199.5,139 L208.2,139 L208.2,141 L199.5,141Z" fill="#d8d8d8" fill-rule="evenodd"/>
<path d="M315,98.25 L320,98.25 L320,96.4 L315,96.4Z M297.5,102.5 L302.5,102.5 L302.5,100 L297.5,100Z M218,116 L223.5,116 L223.5,112.5 L218,112.5Z M238.5,121.5 L238.5,117.5 L234.5,117.5 L234.5,121.5Z M566.7,163.13 L570.94,165.73 L574.48,169.27 L578.61,172.08 L579.67,172.48 L580.79,172.37 L585.52,170.52 L589.27,166.77 L593.25,161.5 L596.68,156 L609.81,152.37 L612.95,150.39 L618.35,152.38 L624.6,153.77 L633.03,152.52 L640.11,153.07 L643.91,151.77 L645.01,151.01 L645.57,149.8 L645.42,148.47 L638.74,142.1 L631.29,131.03 L628.47,128.13 L626.7,127.4 L620.82,127.4 L617.9,126.18 L619.63,124.12 L624.32,120.56 L628.85,117.72 L632.83,117.24 L637.37,118.42 L638.81,118.37 L642.61,117.07 L643.86,116.11 L646.34,112.49 L650.32,108.25 L652.92,103.25 L653.2,94 L392.77,94 L387.68,98.57 L384.27,107.52 L380.73,108.98 L377.63,112.45 L377.52,113.57 L377.92,114.64 L380.23,118.11 L380.69,119.48 L377.88,120.89 L373.44,122 L367.5,122 L366,122.5 L360.42,126.86 L357.52,131.67 L358.88,136.54 L359.75,137.75 L368.61,144.08 L370,144.5 L374.87,144.24 L379.87,141.74 L381.25,140.26 L382.79,141.81 L384.24,141.95 L386.93,139.86 L399.39,143.18 L405.31,142 L409.41,142 L410.79,142.69 L412.64,145.46 L413.93,152.18 L416.43,158.43 L419.48,161.77 L420.72,162.44 L422.12,162.34 L422.69,161.92 L425,162.5 L435,157.5 L440,158.75 L442.5,165 L447.5,167.5 L452.5,168.75 L457.5,167.5 L462.5,165 L469,160.5 L472,162 L476,172 L480,180 L488,184 L496,186 L504,186 L510,182 L518,166 L522,160 L524,150 L523.04,149.04 L523.33,148.22 L530,146 L540,150 L552,158 L565.45,161.36Z M166,182.5 L167.5,180 L162.5,177.5 L152.5,170 L147.5,170 L147.5,174 L150,177.5 L160,182Z M141,182 L147,182.5 L149,180 L144,178 L139,177.5Z M508,190 L498,190 L486,192 L486,198 L490,204 L496.1,205.52 L497.49,206.45 L508,204 L512,198Z M593.66,209.4 L592.5,205 L587.5,202.5 L582.5,197.5 L580,191.25 L581.25,185 L580,178.75 L577.5,172.5 L572.5,167.5 L558.75,168.75 L556.25,175 L557.5,185 L555,200 L550,202.5 L543.75,205 L540,210 L537.5,215 L537.5,227 L539.72,230.55 L538,231 L537.53,233.41 L539,241 L541.31,241.48 L551,240 L551.46,237.55 L550.1,231 L577.5,233 L585,231 L590,228 L588.75,222.5 L590,215Z M583.13,251.23 L584.25,249.88 L585,250 L589.93,252.46 L597.25,257.39 L606.18,259.99 L613.18,259.49 L614.65,258.88 L615.45,257.49 L616.45,252.49 L616.31,251.04 L615.39,249.92 L609.12,245.76 L601.12,241.76 L590.37,240.03 L588.58,240.54 L584.5,238.5 L584.17,236.75 L583.25,235.83 L582,235.5 L578.5,235.5 L577.5,235 L567.5,233.75 L555,236.25 L555,239.4 L561.25,240 L567.5,243.75 L567.5,248 L567.8,249.19 L568.63,250.09 L569.79,250.49 L581.79,251.49Z M515,255 L516,250.5 L507,250.5 L508,255Z M521.5,270.5 L522,264.5 L515,264.5 L515,270.5Z" fill="#f0ecb4" fill-rule="evenodd"/>
<path d="M570.94,165.73 L574.86,169.58 L578.61,172.08 L579.67,172.48 L580.79,172.37 L585.52,170.52 L589.27,166.77 L593.25,161.5 L596.68,156 L609.81,152.37 L612.95,150.39 L618.35,152.38 L624.6,153.77 L633.03,152.52 L640.11,153.07 L643.91,151.77 L645.01,151.01 L645.57,149.8 L645.42,148.47 L638.74,142.1 L631.29,131.03 L628.47,128.13 L626.7,127.4 L620.82,127.4 L617.9,126.18 L619.63,124.12 L624.32,120.56 L628.85,117.72 L632.83,117.24 L637.37,118.42 L638.81,118.37 L642.61,117.07 L643.86,116.11 L646.34,112.49 L650.32,108.25 L652.92,103.25 L653.2,94 L392.77,94 L387.68,98.57 L384.27,107.52 L380.73,108.98 L377.63,112.45 L377.52,113.57 L377.92,114.64 L380.23,118.11 L380.69,119.48 L377.88,120.89 L373.44,122 L367.5,122 L366,122.5 L360.42,126.86 L357.52,131.67 L358.88,136.54 L359.75,137.75 L368.61,144.08 L370,144.5 L374.87,144.24 L379.87,141.74 L381.25,140.26 L382.79,141.81 L384.24,141.95 L386.93,139.86 L399.39,143.18 L405.31,142 L409.41,142 L410.79,142.69 L412.64,145.46 L413.93,152.18 L416.43,158.43 L419.48,161.77 L420.72,162.44 L422.12,162.34 L422.69,161.92 L424.05,162.1 L427.8,157.1 L429.19,153.5 L431.94,151.66 L434.72,148.98 L436.11,152.29 L439.68,154.38 L441.47,154.74 L443.19,154.16 L446.94,151.66 L449.66,148.07 L452.93,147.25 L456.44,147.25 L458.81,148.83 L462.2,153.35 L463.43,154.38 L468.43,156.88 L470,157.25 L471.57,156.88 L477.6,153.6 L480.88,154.9 L487.27,165.59 L487.46,166.8 L483.3,166.8 L481.55,167.27 L480.27,168.55 L479.8,170.3 L479.8,175.2 L480.27,176.95 L481.55,178.23 L483.3,178.7 L489.4,178.7 L491.15,178.23 L491.65,177.73 L493.57,181.57 L494.7,182.87 L498.3,185.37 L499.79,185.96 L501.38,185.83 L505.08,184.63 L506.29,183.94 L507.14,182.84 L509.54,177.94 L509.8,175.55 L507.68,167.02 L508.56,164.99 L510.87,165.27 L512.87,164.93 L517.67,162.53 L519.23,160.97 L521.63,156.17 L523.83,149.83 L523.04,149.04 L523.33,148.22 L524.35,147.88 L524.44,146.64 L523.66,145.02 L522.17,144 L519.86,144.1 L521.13,141.57 L521.4,139.15 L519.55,131.79 L520.32,125.63 L523.45,122.5 L529.78,122.5 L537.57,123.47 L539.11,123.32 L545.94,120.91 L551.22,117.4 L559.54,116.56 L565.48,118.79 L568.5,124.83 L568.5,135.71 L566.63,146.91 L562.87,154.43 L562.5,155.85 L564.26,161.06 L565.45,161.36 L566.7,163.13Z M496.1,205.52 L497.49,206.45 L498.61,206.43 L508,204 L509.38,201.94 L509.37,201.04 L507.37,194.04 L506.58,192.63 L505.25,191.73 L503.65,191.52 L493.65,192.52 L492.07,193.08 L490.93,194.31 L490.5,195.93 L490.87,197.57 L494.67,205.17Z M593.66,208.1 L592.4,204.95 L588.3,202.9 L583.89,204.18 L579.59,206.29 L575.85,205.35 L573.89,205.43 L567.77,207.47 L567.2,207.19 L569.16,205.69 L571.47,202.23 L575.75,197.55 L578.4,190.85 L579.65,185.85 L579.66,184.21 L578.93,182.75 L576.48,179.83 L575.98,174.67 L575.22,172.8 L572.72,169.7 L571.36,168.67 L569.67,168.42 L563.42,169.02 L561.91,169.52 L560.79,170.64 L560.27,172.14 L559.03,184.49 L555.31,202.86 L546.39,203.94 L544,204.9 L543.12,205.93 L538.12,215.93 L537.85,218.35 L539.1,223.35 L539.81,224.74 L543.46,228.64 L546.86,229.06 L539.78,229.51 L539.2,229.71 L539.72,230.55 L538,231 L537.53,233.41 L539,241 L541.31,241.48 L551,240 L551.46,237.55 L550.1,231 L551.05,231 L549.43,229.31 L548.37,229.11 L560.12,229.5 L574.95,229 L582.78,229.49 L584.57,229.13 L586.57,228.13 L587.92,226.93 L588.49,225.21 L588.13,223.43 L586.28,219.73 L586.81,218.14 L590.08,214.87 L593.66,209.4Z M577.5,172.5 L572.5,167.5 L571.4,167.6 L574.31,170.41Z M584.25,249.88 L585.19,250.1 L585.42,249.28 L587.1,251.05 L589.93,252.46 L597.25,257.39 L606.18,259.99 L613.18,259.49 L614.65,258.88 L615.45,257.49 L616.45,252.49 L616.31,251.04 L615.39,249.92 L609.12,245.76 L600.37,241.53 L590.37,240.03 L588.58,240.54 L587.7,240.1 L586.8,241.08 L585.18,244.73 L584.78,244.01 L585.5,242 L585.5,239 L584.5,238.5 L584.17,236.75 L583.25,235.83 L582,235.5 L578.5,235.5 L577.5,235 L575.25,234.97 L573.97,236.25 L573.5,238 L573.5,241.78 L570.29,241.51 L568.42,241.88 L567.02,243.17 L567.75,244.12 L567.5,248 L567.8,249.19 L568.63,250.09 L569.79,250.49 L581.79,251.49 L583.13,251.23Z" fill="#ecd28c" fill-rule="evenodd"/>
<path d="M393.68,94 L393.53,94.85 L388.51,98.91 L384.99,108.24 L381.37,109.62 L378.49,112.74 L378.67,114.14 L381.05,117.71 L381.79,119.94 L378.19,121.74 L373.55,122.9 L367.5,122.9 L366.54,123.22 L361.54,126.97 L358.41,131.79 L359.73,136.26 L360.29,137.03 L365.36,140.83 L370,143.6 L374.47,143.43 L379.47,140.93 L381.25,138.63 L382.42,140.39 L383.14,140.98 L384.06,141.07 L386.68,138.83 L399.61,142.3 L405.2,141.1 L409.62,141.1 L411.4,141.99 L413.49,145.11 L414.76,151.84 L417.26,158.09 L420.91,161.56 L421.81,161.5 L422.53,160.96 L426.28,155.96 L427.59,152.28 L431.13,149.88 L435,146.01 L436.1,147.11 L437.54,151.05 L441.35,152.85 L445.89,150.08 L448.49,146.4 L452.7,145.35 L457.02,145.35 L460.13,147.43 L464.28,152.68 L469.28,155.18 L470.72,155.18 L475.72,152.68 L477.19,151.32 L482.19,153.38 L489.08,164.89 L489.72,168.78 L483.3,168.7 L481.91,169.5 L481.91,176 L483.3,176.8 L490.2,176.59 L491,175.2 L491,173.25 L492.92,176.02 L495.27,180.72 L500.07,184.08 L505.05,182.51 L507.84,177.1 L507.95,176.01 L505.68,166.84 L507.39,162.93 L512.02,163.23 L516.82,160.83 L517.53,160.12 L520.01,155.12 L522.51,147.82 L522.21,146.26 L520.72,145.73 L519.97,146.07 L518.89,148.4 L514.56,148.4 L516.43,146.72 L519.43,140.72 L519.55,139.61 L517.62,131.9 L518.52,124.74 L522.66,120.6 L529.9,120.6 L538.51,121.52 L544.89,119.33 L550.56,115.55 L559.79,114.63 L566.85,117.28 L570.4,124.38 L570.4,135.87 L568.46,147.5 L564.57,155.28 L564.51,156.59 L566.51,161.59 L567.17,162.37 L571.5,165.02 L575.36,168.83 L579.11,171.33 L580.51,171.52 L584.88,169.88 L588.63,166.13 L592.53,160.96 L596.11,155.21 L609.52,151.51 L612.89,149.35 L618.62,151.53 L624.46,152.88 L633.02,151.61 L639.82,152.21 L644.32,150.43 L644.59,148.81 L644.07,148.13 L641.65,146.29 L638.04,142.68 L630.54,131.52 L627.83,128.77 L626.7,128.3 L620.67,128.3 L617.58,127.24 L616.75,126.15 L619.01,123.47 L623.81,119.82 L628.55,116.85 L632.89,116.32 L638.52,117.51 L642.32,116.21 L643.12,115.6 L645.64,111.92 L649.52,107.84 L652.3,102.1 L652.3,94Z M481.85,148.15 L482.01,148.4 L481.11,148.4Z M614.06,258.2 L614.57,257.31 L615.48,251.39 L608.89,246.67 L600.24,242.42 L590.24,240.92 L589.23,241.1 L588.54,241.85 L586.54,246.35 L586.43,247.29 L586.87,248.13 L591.11,252.33 L597.11,256.33 L606.11,259.1 L613.11,258.6Z M544.3,226.94 L559.95,227.6 L574.98,227.1 L582.9,227.6 L586.34,225.88 L586.43,224.28 L584.23,219.88 L585.15,217.11 L592.8,209.16 L592.38,207.62 L589.88,205.12 L588.24,204.73 L584.28,206.07 L579.81,208.3 L574.49,207.23 L567.62,209.52 L562.92,207.2 L567.58,204.64 L569.99,201.02 L573.63,197.38 L576.49,190.59 L577.8,185.39 L577.48,183.97 L574.65,180.6 L573.75,174 L570.62,170.43 L563.6,170.91 L562.4,171.65 L562.16,172.33 L560.92,184.77 L557.2,202.11 L557.42,203.39 L559.12,205.94 L554.77,204.67 L545.31,206.2 L539.82,216.78 L539.7,217.89 L540.95,222.89Z M568.59,248.76 L569.87,249.59 L581.87,250.59 L583.36,249.84 L583.6,246 L583.41,245.24 L582.13,244.41 L570.13,243.41 L568.64,244.16Z M576.2,236.61 L575.4,238 L575.4,242 L576.2,243.39 L582,243.6 L583.39,242.8 L583.6,238 L582.8,236.61Z M539.07,231.7 L538.42,233.26 L539.42,239.26 L540.4,240.48 L549.2,239.59 L550.5,238.57 L549.57,232.21 L548.66,231.04Z M497.02,205.27 L498.39,205.55 L507.12,203.14 L507.54,201.56 L505.18,193.92 L503.84,193.41 L493.84,194.41 L492.6,195.23 L492.57,196.72Z" fill="#ecc464" fill-rule="evenodd"/>
<path d="M517,124 L522,119 L530,119 L538,120 L544,118 L550,114 L560,113 L568,116 L572,124 L572,136 L570,148 L566,156 L568,161 L572.5,163.75 L576.25,167.5 L580,170 L583.75,168.75 L587.5,165 L591.25,160 L595.1,153.8 L605.2,151.3 L609,150 L612.8,147.5 L615.3,148.8 L624.2,151.3 L633,150 L639.3,150.7 L643.1,149.4 L640.6,147.5 L636.8,143.7 L629.2,132.4 L626.7,129.9 L620.4,129.9 L616.6,128.6 L614.7,126.1 L617.9,122.3 L622.9,118.5 L628,115.3 L633,114.7 L638,116 L641.8,114.7 L644.4,110.9 L648.1,107.1 L650.7,102.1 L650.7,94 L395.3,94 L395,95.75 L390,99.5 L386.25,109.5 L382.5,110.75 L380,113.25 L382.5,117 L383.75,120.75 L378.75,123.25 L373.75,124.5 L367.5,124.5 L362.5,128.25 L360,132 L361.25,135.75 L370,142 L373.75,142 L378.75,139.5 L381.25,135.75 L383.75,139.5 L386.25,137 L400,140.75 L405,139.5 L410,139.5 L412.5,140.75 L415,144.5 L416.25,151.25 L418.75,157.5 L421.25,160 L425,155 L426.25,151.25 L430,148.75 L435,143.75 L437.5,146.25 L438.75,150 L441.25,151.25 L445,148.75 L447.5,145 L452.5,143.75 L457.5,143.75 L461.25,146.25 L465,151.25 L470,153.75 L475,151.25 L478.75,147.5 L482.5,146.25 L485,150 L478,150 L483.3,152.1 L490.6,164.3 L491.8,171.6 L494.3,175.2 L496.7,180 L500.3,182.5 L504,181.3 L506.4,176.4 L504,166.7 L506.4,161.2 L511.3,161.8 L516.1,159.4 L518.5,154.6 L521,147.3 L520,150 L510,150 L515,146 L518,140 L516,132Z M483.3,170.3 L483.3,175.2 L489.4,175.2 L489.4,170.3Z M558.75,202.5 L561.25,206.25 L566.25,203.75 L568.75,200 L572.5,196.25 L575,190 L576.25,185 L573.1,181.25 L572.5,175 L570,171.9 L563.75,172.5 L562.5,185Z M498,204 L506,202 L504,195 L494,196Z M545,225.5 L560,226 L575,225.5 L583,226 L585,225 L582.5,220 L583.75,216.25 L591.25,208.75 L588.75,206.25 L585,207.5 L580,210 L575,208.75 L567.5,211.25 L562.5,208.75 L555,206.25 L546.25,207.5 L541.25,217.5 L542.5,222.5Z M540,233 L541,239 L549,238 L548,232.5Z M577,238 L577,242 L582,242 L582,238Z M570,248 L582,249 L582,246 L570,245Z M613,257 L614,252 L608,248 L600,244 L590,242.5 L588,247 L592,251 L598,255 L606,257.5Z" fill="#999900" fill-rule="evenodd"/>
<path d="M614.36,140.46 L615.43,139.46 L615.47,138.71 L614.47,133.71 L613.59,132.62 L605.81,129.51 L597.81,130.51 L596.61,131.43 L597.52,139.21 L598.59,140.44 L606.36,142.46Z M584,201 L583.22,199.68 L582.45,199.5 L567.97,200.22 L567.25,201.5 L567.45,206.75 L568.75,207.5 L583.25,207.3 L584,206Z M581.5,232.5 L581.3,227.25 L580,226.5 L559,226.5 L557.7,227.25 L557.5,228 L557.5,232.5 L557.7,233.25 L559,234 L580,234 L581.3,233.25Z M571.44,123.59 L569.1,115.98 L567.81,115.51 L559.05,116.84 L558.54,118.36 L560.92,127.04 L562.36,127.46 L571.05,125.07Z M564,245 L563.8,240.25 L562.5,239.5 L550.25,239.7 L549.5,241 L549.7,245.75 L551,246.5 L563.25,246.3Z M561.46,139.64 L560.41,138.56 L559.64,138.54 L550.96,140.92 L550.54,142.36 L552.92,151.04 L554.36,151.46 L563.04,149.08 L563.46,147.64Z M557.3,189.75 L557.3,179.25 L556,178.5 L551,178.5 L549.7,179.25 L549.5,189 L550.25,190.3 L556,190.5Z M459,155 L458.8,148.25 L457.5,147.5 L450.25,147.7 L449.5,149 L449.7,155.75 L451,156.5 L458.25,156.3Z" fill="#ecd28c" fill-rule="evenodd"/>
<path d="M568,117 L560,118 L562,126 L570,124Z M614,139 L613,134 L606,131 L598,132 L599,139 L606,141Z M560,140 L552,142 L554,150 L562,148Z M457.5,149 L451,149 L451,155 L457.5,155Z M556,180 L551,180 L551,189 L556,189Z M582.5,201 L568.75,201.5 L568.75,206 L582.5,206Z M580,228 L559,228 L559,232.5 L580,232.5Z M562.5,241 L551,241 L551,245 L562.5,245Z" fill="#5a5a5a" fill-rule="evenodd"/>
<path d="M612.6,138.11 L611.95,134.85 L605.83,132.23 L599.36,133.04 L600.08,138.06 L606.02,139.76Z M581.3,202.24 L569.95,202.66 L569.95,204.8 L581.3,204.8Z M578.8,229.2 L560.2,229.2 L560.2,231.3 L578.8,231.3Z M567.13,118.32 L561.49,119.02 L562.87,124.54 L568.51,123.14Z M561.3,242.2 L552.2,242.2 L552.2,243.8 L561.3,243.8Z M559.13,141.46 L553.46,142.87 L554.87,148.54 L560.54,147.13Z M554.8,181.2 L552.2,181.2 L552.2,187.8 L554.8,187.8Z M456.3,150.2 L452.2,150.2 L452.2,153.8 L456.3,153.8Z" fill="#b4b4b4" fill-rule="evenodd"/>
<path d="M651.52,100.25 L652.64,101.46 L656.64,102.46 L657.53,102.4 L658.23,101.85 L658.5,94 L657.75,92.7 L652,92.5 L650.63,93.4Z M520.58,138.47 L521.12,139.22 L522,139.5 L530,139.5 L531.34,138.67 L534.5,132.11 L532.08,124.95 L530.85,124.51 L520.85,125.51 L519.99,125.89 L518.53,131.71Z M474,172.5 L475.22,171.87 L475.48,171.21 L476.36,163.38 L475,162.5 L468.19,162.74 L467.52,164.21 L468.78,171.87 L470,172.5Z" fill="#969696" fill-rule="evenodd"/>
<path d="M653,100 L657,101 L657,94 L652,94Z M522,138 L530,138 L533,132 L531,126 L521,127 L520,132Z M474,171 L475,164 L469,164 L470,171Z" fill="#e6e6e6" fill-rule="evenodd"/>
<g stroke="#a3a3a3" stroke-width="1" stroke-dasharray="2,4.5" fill="none">
<path d="M198.5,95V545M260.5,95V545M323.5,95V545M386.5,95V545M448.5,95V545M511.5,95V545M573.5,95V545M636.5,95V545"/>
<path d="M135,133.5H657M135,170.5H657M135,208.5H657M135,245.5H657M135,283.5H657M135,320.5H657M135,358.5H657M135,395.5H657M135,433.5H657M135,470.5H657M135,508.5H657"/>
</g>
<path d="M141,95.5 L146,100.5 L153,95.5 M181.8,145 L182,137.5 L182.3,130 L183,124 L184,120 L187,116.5 L191,115 L197.5,115.6 L201,117.5 L206,124 L211,130 L216,133 L220,131 L223,125 L227.5,119 L230,116.4 L233.75,114.5 L238.75,116.4 L247.5,118.25 L251.25,116.4 L256.25,112.6 L260,114.5 L266.25,118.25 L271.25,120.1 L276.25,119.5 L278.75,118.25 L283.75,120.75 L290,123.25 L295,123.9 L301.25,122.6 L303.75,122 L307.5,125.1 L312.5,128.9 L315,128.25 L320,125.1 L327.5,124.5 L333.75,126.4 L338.75,122 L345,123.25 L355,124.5 L363.75,125.75 L368.75,130.75 L372.5,133.25 L373.1,137 L371.25,139.5 L375,142 L380,142.6 L385,143.25 L390,140.75 L393.75,138.25 L397.5,137.6 L405,138.9 L408.75,140.1 L408.75,147 L407.5,152 L405,157 L401.25,162 L397.5,167 L394,170 L392,176 L393,182 L398,186 L404,189 L410,192 L416,196 L422,202 L424,206 L420,209 L414,210 L408,208 L402.5,207.5 L400.6,208.75 L402.5,212.5 L407.5,216.25 L412.5,221.25 L416.25,226.25 L417.5,231.25 L416.9,236.25 L413.75,238.75 L407.5,240 L400,242.5 L396.25,242.5 L391.25,240.6 L386.9,240.6 L382.5,243.75 L381.9,247.5 L385,252.5 L388.75,257.5 L390,262.5 L388.75,265 L385,263.75 L382.5,258.75 L378.75,255.6 L373.75,257.5 L370,261.25 L366.25,265 L364,268 L363.75,271.25 L363.75,278.75 L357.5,280 L353.75,282.5 L351.9,288.75 L350.6,295 L353.75,300 L358.1,303.75 L359.4,307.5 L358.1,311.25 L353.75,313.75 L351.25,315 L350.6,320 L352.5,323.75 L355,325 M385,95 L385,97 L383.75,103.25 L387.5,105.75 L392.5,109.5 L400,113.25 L407.5,114.5 L411.9,115.75 L411.25,118.9 L405,118.9 L400,117 L396.9,115.75 L395,117 L393.75,122 L392.5,128.25 L391.25,134.5 L388.75,138.25 L387.5,140.1 M496,95 L500,98 L512,108 L526,114 L538,116 L543,122 L540,128 L533,133 L535,135 L544,137 L546,141 L542,143 L535,143 L536,147 L546,152 L550,156 L558,158 L568,159 L574,162 L578,168 L582,171 L588,166 L594,158 L600,154 L606,156 L612,161 L618,164 L620,167 L616,167 L612,165 M142,186 L146,192.5 L150,197.5 L154,204 L157,208 L162,211 L168,214 L175,218 L182.5,222.5 L188,226 L193,230 L194,236 L193,240 L199,245 L207,246 L215,242 L225,242 L233,246 L241,249 L251,252 L257,256 L263,262 L267,268 L271,270 L277,272 L283,276 L289,282 L293,286 L299,287 L303,285 L307,288 L313,290 L319,296 L325,300 L333,304 L336,307.5 L341,311 L346,310.6 L350.6,313.75 L351.25,315 M181.8,145 L183,149 L187.5,150.6 L192.5,152.5 L196,156 L199,161 L202.5,166 L205,170 L207.5,175 L208,180 L207,186 L206,191 L210,192.5 L214,194 L217.5,197.5 L221,201 L225,204 L233,208 L239,214 L245,222 L253,230 L261,238 L269,244 L276,247 L278,252 L279,260 L283,264 L289,268 L297,274 L302,280 L303,285 M223,256 L227,253.6 L241,254 L251,257 L253,260 L249,262.4 L237,262 L225,260 L222.6,258 L223,256 M222,268 L225,266 L237,267 L251,270 L263,272 L267,274 L265,275 L251,274 L235,272 L224,270 L222,268 M201,277 L211,276.4 L213,279 L209,282 L202,282 L200.6,279.6 L201,277 M237,284 L245,283 L261,285 L271,286 L272,288 L265,290 L253,291 L241,289 L237.4,286 L237,284 M261,279 L271,279.5 L281,281.5 L291,284.5 L300,287.5 L304,290 L300,293 L290,290.5 L280,287.5 L270,284.5 L262.5,282 L261,279 M256,272.5 L263,273 L269,273.8 L264,274.6 L256,274 M293,291 L301,294 L309,298 L317,302 L325,306 L330,309.4 L337.5,315 L345,320 L352.5,325 L360,330 L367.5,333.75 L375,336.25 L382.5,340 L390,347.5 L395,357.5 L400,362.5 L405,365 L412.5,367.5 L420,370 L422.5,376 L421,385 L417.5,394.5 L415,400 L416,410 L415,420 L412.5,430 L416,436 L415,441 L410,444 L407.5,451 L405,460 L410,465 L415,470 L416,476 L415,482.5 L410,481 L406,476 L405,475 L407.5,482.5 L412.5,487.5 L420,492.5 L430,497.5 L437.5,502.5 L442.5,507.5 L445,515 L446,522.5 L446,530 L447.5,547 M353.75,323.75 L365,322.5 L366.9,327.5 L358.75,328.1 L355,326.25 L353.75,323.75 M281,298 L289,299 L299,302 L307,305 L305,306 L295,304 L285,301 L280.6,299.4 L281,298 M136,205 L142,209 L148,213 L149,216 L145,215 L139,211 L136,208 M135,166 L140,170 L145,175 L150,179 L155,182 L160,185 L168,188 M137,172 L142,176 L147,181 L150,185 L145,185 L140,180 L137,176 M400,242.5 L403.75,247.5 L410,252.5 L415,257.5 L420,262.5 L427.5,270 L437.5,272.5 L447.5,277.5 L455,282.5 L462.5,285 L469,290 L471,294 L465,299 L457.5,300 L450,302.5 L447.5,306 L452.5,310 L452.5,315 L447.5,317.5 L440,320 L435,321 L432.5,315 L431,310 L429,307.5 L425,310 L424,315 L420,325 L415,332.5 L410,340 L405,345 L410,350 L409,355 L406,360 L405,365 M452.5,315 L460,322.5 L462.5,330 L467.5,334 L475,336 L480,340 L482.5,347.5 L485.6,356.25 L485,363.75 L485,367.5 L488.75,368.1 L495,367.5 L496.25,364.4 L498.75,352.5 L498.75,350.6 L505,348.1 L511.25,345.6 L517.5,342.5 L520,342.5 L522.5,345 L526.25,346.9 L530,346.25 L533.75,342.5 L538.75,338.75 L542.5,337.5 L547.5,339.4 L555,339.4 L558.75,338.1 L562.5,335 L566.25,332.5 L572.5,333.1 L582.5,334 L590,331 L595,332.5 L600,330 L604,326 L606,322.5 L605,317.5 L600,312.5 L600,302.5 L601,294 L606,292 L612,291 L618,289 L622,285 L627,280 L632,274 L635,268 L632.5,265 L627.5,260 L622.5,255 L615,250 L607.5,245 L605,240 L600,232.5 L597.5,225 L596,217.5 L597.5,210 L602.5,205 L607.5,200 L610,195 L612.5,190 L616,189 L615,185 L610,184 M610,195 L614,194 L622.5,196 L630,199 L635,200 L640,204 L635,207.5 L629,210 L626,215 L630,217.5 L640,219 L650,219 L658,217.5 M597.5,335 L602.5,342.5 L610,347.5 L617.5,351 L622.5,354 L626,360 L629,365 L631,370 L634,374 L636,377.5 L635,381 L632.5,385 L634,392.5 L632.5,397.5 L632.5,407.5 M487.5,362.5 L485,370 L482,378 L481,386 L480,397.5 L482.5,405 L480,410 L482.5,417.5 L487.5,425 L492.5,434 L495,439 L502.5,440 L510,442.5 L522.5,442.5 L535,441 L540,440 L550,442.5 L557.5,440 L562.5,436 L567.5,430 L570,425 L575,422.5 L582.5,421 L590,420 L597.5,422.5 L607.5,422.5 L617.5,421 L621,417.5 L621,410 L625,407.5 L632.5,407.5 L640,409 L647.5,407.5 L652.5,404 L658,402.5 M510,442.5 L511,452.5 L514,460 L510,470 L502.5,474 L497.5,480 L492.5,490 L490,497.5 L482.5,502.5 L472.5,505 L467.5,510 L470,517.5 L472.5,522.5 L467.5,526 L462.5,532.5 L457.5,535 L450,532.5 L446,530 M640,547 L632.5,540 L627.5,532.5 L622.5,525 L617.5,517.5 L612.5,512.5 L609,505 L607.5,497.5 L610,490 L611,482.5 L612.5,475 L611,471 L617.5,469 L625,465 L629,461 L631,460 L634,464 L634,469 L630,470 L626,472.5 L630,476 L637.5,480 L645,484 L652.5,487.5 L656,490 L656,500 M425,526 L430,522.5 L440,521 L445,525 L447.5,530 M427.5,530 L435,537.5 L440,547 M437.5,532.5 L440,540 M460,535 L462.5,547 M135,357.5 L145,361 L155,363 L167.5,364 L180,363 L190,362.5 L197.5,361 L205,362.5 L209,367.5 L210,372.5 L207.5,376 L202.5,380 L197.5,384 L195,387.5 L192.5,392 L192.5,396 L202.5,401 L212.5,405 L225,410 L235,415 L245,420 L255,424 L267.5,427.5 L277.5,434 L285,440 L292.5,447 L305,451 L315,455 L322.5,459 L324,465 L330,470 L340,477.5 L347.5,485 L352.5,492.5 L355,500 L351,506 L349,512.5 L347.5,522.5 L340,520 L330,517.5 L327.5,512.5 L324,502.5 L321,495 L317.5,489 L310,485 L300,484.5 L290,485 L280,480 L274,476 L279,471 L270,469.5 L262.5,469.5 L255,474 L250,480 L245,490 L240,497.5 L235,502.5 L234,510 L230,517.5 L227.5,525 L230,530 L235,535 L245,540 L255,547 M135,492.5 L145,495 L155,502.5 L161,509 L167.5,502.5 L175,502.5 L180,507.5 L182.5,515 L184,522.5 L187.5,532.5 L192.5,540 L195,547" fill="none" stroke="#000" stroke-width="2" stroke-linejoin="round" stroke-linecap="round"/>
<path d="M135,174 L140,170 L144,167.5 L149,166 L155,165 L160,162.5 L165,159 L170,156 L175,152.5 L180,151 L186,150.6 L192.5,149 L199,147.5 L205,146 L211,144 L217.5,142.5 L225,141.4 L232.5,138.25 L240,135.75 L243,134 M260,129 L262.5,128.25 L275,124.5 L287.5,122 L295,120.1 L302.5,118.25 L312.5,115.1 L325,110.75 L330,110 L345,106 L360,102.5 L375,100 L385,97.5 L390,95 M135,250 L150,245 L155,244 L170,237.5 L182.5,230 L191,222 L199,215 L211,213 L225,206 L233,204 L243,202 L251,200 L260,195 L270,192.5 L280,190 L294,188 M313.75,173.75 L320,170 L325,162.5 L330,158.75 L337.5,155 L345,152.5 L350,148.5 L362,145 L374,142 L390,139 L402,135 L414,131 L426,127 L438,125 L448,124 L456,123 M477,119 L478,118 L490,112 L502,107 L515,103 L525,100 L530,99 L542.5,95 M135,321 L155,312.5 L180,302.5 L205,292.5 L230,285 L250,280 L265,274 L270,270 L285,267.5 L300,264 L310,261 L320,259 L330,256 L342.5,251 L355,246 L360,243.75 L367.5,241.9 L375,237.5 L385,233.1 L393.75,229.4 L402.5,228.75 L408.75,225.6 L416.25,225 L422.5,222.5 L428,219.5 M447,219 L460,212 L470,208 L476,203 L486,202 L491,198 L488,192 L494,186 L504,187 L510,190 L512,196 L516,198 L526,195 L536,193 L540,196 L546,190 L560,189 L580,189 L590,189 M608,190 L620,192.5 L632.5,196 L645,200 L658,203 M135,400 L145,397.5 L160,395 L171,394 L178,391 M197.5,390 L217.5,389.5 L235,391 L250,392.5 L265,390 L280,387.5 L295,385 L310,380 L330,375 L355,376 L380,379 L400,382.5 L415,386 M434,387.5 L445,389 L452.5,387.5 L456,382.5 L457.5,376 L460,375 L461,380 L460,385 L465,387.5 M483,389 L486,392 L490,394 M476,378 L478,372 L482,368 L486,370 M497,376 L500,384 L502,392 L500,398 M520,372 L523,380 L524,386 M555,392.5 L562.5,400 L570,407.5 L575,415 L577.5,415 L576,421 L571,427.5 L569,435 L567.5,442.5 L557.5,444 L550,449 L545,445 L540,442.5 L541,450 L537.5,457.5 L537.5,465 L542.5,472.5 L550,480 L555,484 L557.5,495 L557,507.5 L562.5,510 L566,514 L566,519 M547,519 L546,512.5 L552.5,511 M549,530 L549,534 L545,537.5 L545,547 M145,535 L152.5,540 L157.5,547" fill="none" stroke="#1e3cff" stroke-width="1" stroke-linejoin="round"/>
<path d="M147.5,150 L151,154 L155,159 L159,162.5 L162.5,165 L167.5,162.5 L171,160.6 L174,162.5 L174,167.5 L172.5,171 L175,174 L180,177 L185,177.5 L189,180 L190,184 L189,189 L185,191 L180,190.6 L175,189 L170,187.5 L167.5,185 M137.5,149 L138,155 L140,161 L142.5,167.5 L145,172 M195,171 L200,172.5 L204,176 L207,182 L206,188 L202,190 L198,186 L196,178 L195,171 M135,205 L142.5,204 L150,202.5 L159,202 L167.5,200.6 L175,200 L181,197.5 L186,195 L192.5,194.4 L200,195 L206,196 L211,197.5 L217.5,200.6 L222.5,202.5 L227.5,204 L235,200 L247.5,199 L260,196 L270,194 M277.5,192.5 L285,190.6 L295,190 L300,185 L305,180 L310,176.25 L317.5,174.4 L325,172.5 L332.5,170 L340,166.25 L347.5,163.75 L355,160 L360,156.9 L365,155.6 L374,156 L390,157 L406,157 L418,156.4 L430,158 L438,160 L446,164 L454,165 L462,164 L470,162 L478,160 L486,157 L494,153 L502,151 L510,150 M518,148 L520,147.5 L525,142.5 L530,135 L535,125 L537.5,117.5 L540,112.5 L547.5,105 L555,100 L562.5,95 M560,95 L562,105 L566,110 L572,112 L576,116 L572,120 L566,122 L562,125 L558,130 L554,135 M550,126 L548,118 L552,114 L558,116 M572,152 L580,158 L584,164 L588,167 L596,169 M607,172 L612,167 L617,162 L622,157 L627,150 L635,145 L645,141 L658,137 M620,104 L626,107 L632,110 L640,112 L650,113 L658,114 M644,96 L646,100 M400,283 L405,283.75 L403.75,290 L406.25,295 L406.25,302.5 L410,307.5 L413.75,312.5 L417.5,313.75 L419.4,310 L418.1,302.5 L418.75,297.5 L422.5,297.5 L425.6,301.25 L426.25,310 L426.25,315 L428.75,317.5 M400,283 L396.25,288.75 L394.4,295 L396.25,300 L401.25,302.5 L403.75,307.5 L406.25,312.5 L403.75,317.5 L402.5,325 L400,332.5 L398.5,340 L398,346 M426,288 L430,288 M375,337.5 L380,342.5 L385,350 L387.5,357.5 L385,365 L382.5,375 L375,385 L367.5,390 L355,391 L342.5,390 L330,389 L310,389 L300,385 L290,381 L275,376 L260,370 L247.5,360 L235,352.5 L222.5,345 L210,341 L200,340 L180,334 L155,325 L135,320 M430,312.5 L440,315 L450,317.5 L457.5,325 L462.5,332.5 L472.5,336 L480,339 L485,342.5 L490,345 L494,352 M487.5,335 L490,330 L495,326.25 L502.5,323.75 L507.5,325 L511.25,328.75 L517.5,331.25 L525,331.9 L532.5,332.5 L540,332.5 L542.5,333.75 M480,338.75 L485,338.75 L490,341.25 L495,343.75 L500,345 L502.5,347.5 M505,353.75 L503.75,357.5 L502.5,362.5 L502.5,366 M512.5,361.25 L517.5,357.5 M526,358.75 L523.75,363.75 L522.5,367.5 L520,371.25 L523.75,373.75 L530,372.5 L535,370 L538.75,367.5 L536.25,366.25 L538.75,363.75 L543.75,362.5 L546.25,357.5 L545,351.25 L543.75,347.5 L545,342.5 L546.25,338.75 L550,335 L555,331.25 L557.5,327.5 L565,325 L570,323.75 L573.75,321.25 L580,322.5 M532.5,395 L536.25,387.5 L542.5,385 L547.5,385 M606.25,291.25 L602.5,293.1 L597.5,294.4 L592.5,296.9 L591.25,300 L593.75,302.5 L597.5,303.75 L595,305 L590,302.5 L587.5,305 L586.25,307.5 L588.75,310 L588.75,312.5 L586.25,315 L582.5,317.5 L580,321.25 L576.25,322.5 M575,326 L567.5,325 L562.5,330 L555,332.5 L547.5,335 L540,334 L532.5,330 L525,326 L515,325 L505,324 L497.5,325 L490,326 M621.25,291.25 L618.75,295 L615,297.5 L613.75,300 L617.5,302.5 L617.5,306.25 L613.75,308.75 L610,311.25 L607.5,313.75 L606.25,317.5 L607.5,321.25 L606.25,325 L605,330 L602.5,335 M656,325 L652.5,327.5 L647.5,331.25 L642.5,330 L638.75,328.1 L635,330 L631.25,335 L630,340 L630,340 L627.5,347.5 L630,352.5 L637.5,357.5 L645,365 L652.5,372.5 L655,375 M597.5,335 L607.5,339 L612.5,345 L610,352.5 L605,357.5 L600,362.5 L602.5,367.5 L615,367.5 L622.5,365 M637.5,270 L640,269.4 L645,270 L650,271.25 L652.5,272.5 M637.5,272.5 L640,275 L647.5,276.25 L652.5,276.25 M177.5,547 L180,535 L184,524 M193,523 L197.5,526 L196,535 L195,547 M370,547 L380,539 L385,537.5 M393,537.5 L402.5,541 L405,547 M540,385 L538,392 L541,396 L546,392 M623,392 L621,398 L622,402 M630,390 L628,396 L630,400" fill="none" stroke="#fa3c3c" stroke-width="1" stroke-dasharray="3,2" stroke-linejoin="round"/>
<g><rect x="241.5" y="127.5" width="20" height="11.5" fill="#fff"/><text x="242.5" y="137.5" font-size="11" fill="#1e3cff" stroke="#1e3cff" stroke-width="0.3" textLength="18" lengthAdjust="spacingAndGlyphs">313</text></g>
<g><rect x="294" y="182" width="20" height="11.5" fill="#fff"/><text x="295" y="192" font-size="11" fill="#1e3cff" stroke="#1e3cff" stroke-width="0.3" textLength="18" lengthAdjust="spacingAndGlyphs">314</text></g>
<g><rect x="305" y="174" width="20" height="11.5" fill="#fff"/><text x="306" y="184" font-size="11" fill="#1e3cff" stroke="#1e3cff" stroke-width="0.3" textLength="18" lengthAdjust="spacingAndGlyphs">314</text></g>
<g><rect x="456" y="117.5" width="20" height="11.5" fill="#fff"/><text x="457" y="127.5" font-size="11" fill="#1e3cff" stroke="#1e3cff" stroke-width="0.3" textLength="18" lengthAdjust="spacingAndGlyphs">314</text></g>
<g><rect x="428" y="213.6" width="20" height="11.5" fill="#fff"/><text x="429" y="223.6" font-size="11" fill="#1e3cff" stroke="#1e3cff" stroke-width="0.3" textLength="18" lengthAdjust="spacingAndGlyphs">315</text></g>
<g><rect x="589" y="180" width="20" height="11.5" fill="#fff"/><text x="590" y="190" font-size="11" fill="#1e3cff" stroke="#1e3cff" stroke-width="0.3" textLength="18" lengthAdjust="spacingAndGlyphs">315</text></g>
<g><rect x="177" y="385" width="21" height="11.5" fill="#fff"/><text x="178" y="395" font-size="11" fill="#1e3cff" stroke="#1e3cff" stroke-width="0.3" textLength="19" lengthAdjust="spacingAndGlyphs">316</text></g>
<g><rect x="414.5" y="381" width="20" height="11.5" fill="#fff"/><text x="415.5" y="391" font-size="11" fill="#1e3cff" stroke="#1e3cff" stroke-width="0.3" textLength="18" lengthAdjust="spacingAndGlyphs">316</text></g>
<g><rect x="464.5" y="384.5" width="19" height="11.5" fill="#fff"/><text x="465.5" y="394.5" font-size="11" fill="#1e3cff" stroke="#1e3cff" stroke-width="0.3" textLength="17" lengthAdjust="spacingAndGlyphs">316</text></g>
<g><rect x="476" y="370" width="20" height="11.5" fill="#fff"/><text x="477" y="380" font-size="11" fill="#1e3cff" stroke="#1e3cff" stroke-width="0.3" textLength="18" lengthAdjust="spacingAndGlyphs">316</text></g>
<g><rect x="502" y="365" width="19" height="11.5" fill="#fff"/><text x="503" y="375" font-size="11" fill="#1e3cff" stroke="#1e3cff" stroke-width="0.3" textLength="17" lengthAdjust="spacingAndGlyphs">316</text></g>
<g><rect x="547" y="519" width="21" height="11.5" fill="#fff"/><text x="548" y="529" font-size="11" fill="#1e3cff" stroke="#1e3cff" stroke-width="0.3" textLength="19" lengthAdjust="spacingAndGlyphs">316</text></g>
<g transform="rotate(32 142.5 531)"><rect x="136" y="525" width="13" height="11.5" fill="#fff"/><text x="137" y="535" font-size="11" fill="#1e3cff" stroke="#1e3cff" stroke-width="0.3" textLength="11" lengthAdjust="spacingAndGlyphs">17</text></g>
<g><rect x="139.5" y="141.5" width="8" height="11.5" fill="#fff"/><text x="140.5" y="151.5" font-size="11" fill="#fa3c3c" stroke="#fa3c3c" stroke-width="0.3" textLength="6" lengthAdjust="spacingAndGlyphs">4</text></g>
<g><rect x="199" y="179" width="8" height="11.5" fill="#fff"/><text x="200" y="189" font-size="11" fill="#fa3c3c" stroke="#fa3c3c" stroke-width="0.3" textLength="6" lengthAdjust="spacingAndGlyphs">4</text></g>
<g><rect x="270" y="189" width="8" height="11.5" fill="#fff"/><text x="271" y="199" font-size="11" fill="#fa3c3c" stroke="#fa3c3c" stroke-width="0.3" textLength="6" lengthAdjust="spacingAndGlyphs">4</text></g>
<g><rect x="510.5" y="147.5" width="8" height="11.5" fill="#fff"/><text x="511.5" y="157.5" font-size="11" fill="#fa3c3c" stroke="#fa3c3c" stroke-width="0.3" textLength="6" lengthAdjust="spacingAndGlyphs">4</text></g>
<g><rect x="547" y="136" width="8" height="11.5" fill="#fff"/><text x="548" y="146" font-size="11" fill="#fa3c3c" stroke="#fa3c3c" stroke-width="0.3" textLength="6" lengthAdjust="spacingAndGlyphs">4</text></g>
<g><rect x="599" y="169" width="8" height="11.5" fill="#fff"/><text x="600" y="179" font-size="11" fill="#fa3c3c" stroke="#fa3c3c" stroke-width="0.3" textLength="6" lengthAdjust="spacingAndGlyphs">4</text></g>
<g><rect x="633" y="96" width="8" height="11.5" fill="#fff"/><text x="634" y="106" font-size="11" fill="#fa3c3c" stroke="#fa3c3c" stroke-width="0.3" textLength="6" lengthAdjust="spacingAndGlyphs">4</text></g>
<g><rect x="395" y="346" width="8" height="11.5" fill="#fff"/><text x="396" y="356" font-size="11" fill="#fa3c3c" stroke="#fa3c3c" stroke-width="0.3" textLength="6" lengthAdjust="spacingAndGlyphs">6</text></g>
<g><rect x="489" y="352.5" width="8" height="11.5" fill="#fff"/><text x="490" y="362.5" font-size="11" fill="#fa3c3c" stroke="#fa3c3c" stroke-width="0.3" textLength="6" lengthAdjust="spacingAndGlyphs">6</text></g>
<g><rect x="518.5" y="346.5" width="8" height="11.5" fill="#fff"/><text x="519.5" y="356.5" font-size="11" fill="#fa3c3c" stroke="#fa3c3c" stroke-width="0.3" textLength="6" lengthAdjust="spacingAndGlyphs">6</text></g>
<g><rect x="579.5" y="321" width="8" height="11.5" fill="#fff"/><text x="580.5" y="331" font-size="11" fill="#fa3c3c" stroke="#fa3c3c" stroke-width="0.3" textLength="6" lengthAdjust="spacingAndGlyphs">6</text></g>
<g><rect x="624.5" y="266" width="8" height="11.5" fill="#fff"/><text x="625.5" y="276" font-size="11" fill="#fa3c3c" stroke="#fa3c3c" stroke-width="0.3" textLength="6" lengthAdjust="spacingAndGlyphs">6</text></g>
<g><rect x="607" y="282.5" width="8" height="11.5" fill="#fff"/><text x="608" y="292.5" font-size="11" fill="#fa3c3c" stroke="#fa3c3c" stroke-width="0.3" textLength="6" lengthAdjust="spacingAndGlyphs">6</text></g>
<g><rect x="619.5" y="336" width="8" height="11.5" fill="#fff"/><text x="620.5" y="346" font-size="11" fill="#fa3c3c" stroke="#fa3c3c" stroke-width="0.3" textLength="6" lengthAdjust="spacingAndGlyphs">6</text></g>
<g><rect x="629.5" y="345" width="8" height="11.5" fill="#fff"/><text x="630.5" y="355" font-size="11" fill="#fa3c3c" stroke="#fa3c3c" stroke-width="0.3" textLength="6" lengthAdjust="spacingAndGlyphs">6</text></g>
<g><rect x="540.5" y="371" width="8" height="11.5" fill="#fff"/><text x="541.5" y="381" font-size="11" fill="#fa3c3c" stroke="#fa3c3c" stroke-width="0.3" textLength="6" lengthAdjust="spacingAndGlyphs">6</text></g>
<g><rect x="548.5" y="384.5" width="8" height="11.5" fill="#fff"/><text x="549.5" y="394.5" font-size="11" fill="#fa3c3c" stroke="#fa3c3c" stroke-width="0.3" textLength="6" lengthAdjust="spacingAndGlyphs">6</text></g>
<g><rect x="630.5" y="384.5" width="8" height="11.5" fill="#fff"/><text x="631.5" y="394.5" font-size="11" fill="#fa3c3c" stroke="#fa3c3c" stroke-width="0.3" textLength="6" lengthAdjust="spacingAndGlyphs">6</text></g>
<g><rect x="651.5" y="267.5" width="8" height="11.5" fill="#fff"/><text x="652.5" y="277.5" font-size="11" fill="#fa3c3c" stroke="#fa3c3c" stroke-width="0.3" textLength="6" lengthAdjust="spacingAndGlyphs">6</text></g>
<g><rect x="622" y="397" width="8" height="11.5" fill="#fff"/><text x="623" y="407" font-size="11" fill="#fa3c3c" stroke="#fa3c3c" stroke-width="0.3" textLength="6" lengthAdjust="spacingAndGlyphs">6</text></g>
<g><rect x="548.5" y="387.5" width="8" height="11.5" fill="#fff"/><text x="549.5" y="397.5" font-size="11" fill="#fa3c3c" stroke="#fa3c3c" stroke-width="0.3" textLength="6" lengthAdjust="spacingAndGlyphs">6</text></g>
<g><rect x="184" y="524" width="8" height="11.5" fill="#fff"/><text x="185" y="534" font-size="11" fill="#fa3c3c" stroke="#fa3c3c" stroke-width="0.3" textLength="6" lengthAdjust="spacingAndGlyphs">8</text></g>
<g><rect x="385.5" y="531" width="8" height="11.5" fill="#fff"/><text x="386.5" y="541" font-size="11" fill="#fa3c3c" stroke="#fa3c3c" stroke-width="0.3" textLength="6" lengthAdjust="spacingAndGlyphs">8</text></g>
</g>
<rect x="135" y="95" width="522" height="450.5" fill="none" stroke="#000" stroke-width="2.2"/>
<g stroke="#000" stroke-width="1.3">
<path d="M132,95.5H135M132,133.5H135M132,170.5H135M132,208.5H135M132,245.5H135M132,283.5H135M132,320.5H135M132,358.5H135M132,395.5H135M132,433.5H135M132,470.5H135M132,508.5H135M132,545.5H135"/>
<path d="M135.5,545V549.5M198.5,545V549.5M260.5,545V549.5M323.5,545V549.5M386.5,545V549.5M448.5,545V549.5M511.5,545V549.5M573.5,545V549.5M636.5,545V549.5"/>
</g>
<g font-size="10.5" text-anchor="end" stroke="#000" stroke-width="0.2">
<text x="128.5" y="100">45.5N</text><text x="128.5" y="137.5">45N</text><text x="128.5" y="175">44.5N</text><text x="128.5" y="212.5">44N</text><text x="128.5" y="250">43.5N</text><text x="128.5" y="287.5">43N</text><text x="128.5" y="325">42.5N</text><text x="128.5" y="362.5">42N</text><text x="128.5" y="400">41.5N</text><text x="128.5" y="437.5">41N</text><text x="128.5" y="475">40.5N</text><text x="128.5" y="512.5">40N</text><text x="128.5" y="550">39.5N</text>
</g>
<g font-size="10.5" text-anchor="middle" stroke="#000" stroke-width="0.2">
<text x="136" y="560">15E</text><text x="198.5" y="560">16E</text><text x="260.5" y="560">17E</text><text x="323.5" y="560">18E</text><text x="386.5" y="560">19E</text><text x="448.5" y="560">20E</text><text x="511.5" y="560">21E</text><text x="573.5" y="560">22E</text><text x="636.5" y="560">23E</text>
</g>
<text x="4" y="616" font-size="9.5" stroke="#000" stroke-width="0.3" textLength="86" lengthAdjust="spacingAndGlyphs">GrADS: COLA/IGES</text>
<text x="684" y="615.5" font-size="9.5" stroke="#000" stroke-width="0.3" textLength="93" lengthAdjust="spacingAndGlyphs">2021-08-21-09:41</text>
</svg>
</body></html>
